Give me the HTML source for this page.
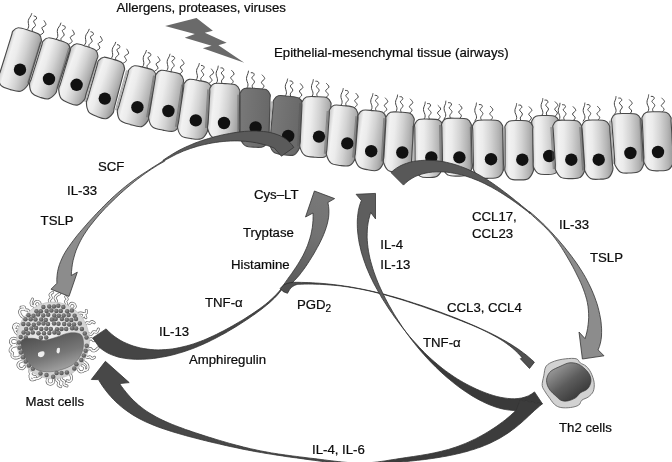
<!DOCTYPE html>
<html><head><meta charset="utf-8"><title>Figure</title>
<style>html,body{margin:0;padding:0;background:#fff}svg{display:block;filter:grayscale(1)}</style></head>
<body>
<svg width="672" height="462" viewBox="0 0 672 462">
<defs>
<linearGradient id="gl" x1="0" y1="0" x2="1" y2="0"><stop offset="0" stop-color="#f6f6f6"/><stop offset="0.45" stop-color="#e9e9e9"/><stop offset="1" stop-color="#b9b9b9"/></linearGradient>
<linearGradient id="gd" x1="0" y1="0" x2="1" y2="0"><stop offset="0" stop-color="#7a7a7a"/><stop offset="1" stop-color="#626262"/></linearGradient>
</defs>
<rect width="672" height="462" fill="#fff"/>
<defs><linearGradient id="c0" gradientUnits="userSpaceOnUse" x1="5.5" y1="54.9" x2="34.3" y2="63.5"><stop offset="0" stop-color="#cfcfcf"/><stop offset="0.13" stop-color="#f2f2f2"/><stop offset="0.32" stop-color="#ececec"/><stop offset="0.6" stop-color="#d2d2d2"/><stop offset="0.85" stop-color="#b4b4b4"/><stop offset="1" stop-color="#9c9c9c"/></linearGradient><linearGradient id="c1" gradientUnits="userSpaceOnUse" x1="36.1" y1="63.6" x2="62.6" y2="72.2"><stop offset="0" stop-color="#cfcfcf"/><stop offset="0.13" stop-color="#f2f2f2"/><stop offset="0.32" stop-color="#ececec"/><stop offset="0.6" stop-color="#d2d2d2"/><stop offset="0.85" stop-color="#b4b4b4"/><stop offset="1" stop-color="#9c9c9c"/></linearGradient><linearGradient id="c2" gradientUnits="userSpaceOnUse" x1="64.8" y1="69.1" x2="90.9" y2="78.6"><stop offset="0" stop-color="#cfcfcf"/><stop offset="0.13" stop-color="#f2f2f2"/><stop offset="0.32" stop-color="#ececec"/><stop offset="0.6" stop-color="#d2d2d2"/><stop offset="0.85" stop-color="#b4b4b4"/><stop offset="1" stop-color="#9c9c9c"/></linearGradient><linearGradient id="c3" gradientUnits="userSpaceOnUse" x1="92.2" y1="82.6" x2="118.5" y2="91.7"><stop offset="0" stop-color="#cfcfcf"/><stop offset="0.13" stop-color="#f2f2f2"/><stop offset="0.32" stop-color="#ececec"/><stop offset="0.6" stop-color="#d2d2d2"/><stop offset="0.85" stop-color="#b4b4b4"/><stop offset="1" stop-color="#9c9c9c"/></linearGradient><linearGradient id="c4" gradientUnits="userSpaceOnUse" x1="123" y1="91.3" x2="151.9" y2="99.2"><stop offset="0" stop-color="#cfcfcf"/><stop offset="0.13" stop-color="#f2f2f2"/><stop offset="0.32" stop-color="#ececec"/><stop offset="0.6" stop-color="#d2d2d2"/><stop offset="0.85" stop-color="#b4b4b4"/><stop offset="1" stop-color="#9c9c9c"/></linearGradient><linearGradient id="c5" gradientUnits="userSpaceOnUse" x1="152.2" y1="97.2" x2="181.5" y2="102.9"><stop offset="0" stop-color="#cfcfcf"/><stop offset="0.13" stop-color="#f2f2f2"/><stop offset="0.32" stop-color="#ececec"/><stop offset="0.6" stop-color="#d2d2d2"/><stop offset="0.85" stop-color="#b4b4b4"/><stop offset="1" stop-color="#9c9c9c"/></linearGradient><linearGradient id="c6" gradientUnits="userSpaceOnUse" x1="180.8" y1="106.4" x2="209.4" y2="111.1"><stop offset="0" stop-color="#cfcfcf"/><stop offset="0.13" stop-color="#f2f2f2"/><stop offset="0.32" stop-color="#ececec"/><stop offset="0.6" stop-color="#d2d2d2"/><stop offset="0.85" stop-color="#b4b4b4"/><stop offset="1" stop-color="#9c9c9c"/></linearGradient><linearGradient id="c7" gradientUnits="userSpaceOnUse" x1="208.9" y1="109.3" x2="239.4" y2="112.5"><stop offset="0" stop-color="#cfcfcf"/><stop offset="0.13" stop-color="#f2f2f2"/><stop offset="0.32" stop-color="#ececec"/><stop offset="0.6" stop-color="#d2d2d2"/><stop offset="0.85" stop-color="#b4b4b4"/><stop offset="1" stop-color="#9c9c9c"/></linearGradient><linearGradient id="c8" gradientUnits="userSpaceOnUse" x1="240.2" y1="116.3" x2="269.5" y2="117.6"><stop offset="0" stop-color="#787878"/><stop offset="1" stop-color="#686868"/></linearGradient><linearGradient id="c9" gradientUnits="userSpaceOnUse" x1="271.6" y1="123" x2="300.9" y2="126.4"><stop offset="0" stop-color="#787878"/><stop offset="1" stop-color="#686868"/></linearGradient><linearGradient id="c10" gradientUnits="userSpaceOnUse" x1="301" y1="125.3" x2="330.4" y2="127.1"><stop offset="0" stop-color="#cfcfcf"/><stop offset="0.13" stop-color="#f2f2f2"/><stop offset="0.32" stop-color="#ececec"/><stop offset="0.6" stop-color="#d2d2d2"/><stop offset="0.85" stop-color="#b4b4b4"/><stop offset="1" stop-color="#9c9c9c"/></linearGradient><linearGradient id="c11" gradientUnits="userSpaceOnUse" x1="328" y1="133.1" x2="356.4" y2="136.5"><stop offset="0" stop-color="#cfcfcf"/><stop offset="0.13" stop-color="#f2f2f2"/><stop offset="0.32" stop-color="#ececec"/><stop offset="0.6" stop-color="#d2d2d2"/><stop offset="0.85" stop-color="#b4b4b4"/><stop offset="1" stop-color="#9c9c9c"/></linearGradient><linearGradient id="c12" gradientUnits="userSpaceOnUse" x1="356.6" y1="137.5" x2="384.4" y2="141.4"><stop offset="0" stop-color="#cfcfcf"/><stop offset="0.13" stop-color="#f2f2f2"/><stop offset="0.32" stop-color="#ececec"/><stop offset="0.6" stop-color="#d2d2d2"/><stop offset="0.85" stop-color="#b4b4b4"/><stop offset="1" stop-color="#9c9c9c"/></linearGradient><linearGradient id="c13" gradientUnits="userSpaceOnUse" x1="384.8" y1="140.4" x2="412.6" y2="142.6"><stop offset="0" stop-color="#cfcfcf"/><stop offset="0.13" stop-color="#f2f2f2"/><stop offset="0.32" stop-color="#ececec"/><stop offset="0.6" stop-color="#d2d2d2"/><stop offset="0.85" stop-color="#b4b4b4"/><stop offset="1" stop-color="#9c9c9c"/></linearGradient><linearGradient id="c14" gradientUnits="userSpaceOnUse" x1="415" y1="147.4" x2="442.5" y2="147.6"><stop offset="0" stop-color="#cfcfcf"/><stop offset="0.13" stop-color="#f2f2f2"/><stop offset="0.32" stop-color="#ececec"/><stop offset="0.6" stop-color="#d2d2d2"/><stop offset="0.85" stop-color="#b4b4b4"/><stop offset="1" stop-color="#9c9c9c"/></linearGradient><linearGradient id="c15" gradientUnits="userSpaceOnUse" x1="442.2" y1="146.2" x2="471.6" y2="146.5"><stop offset="0" stop-color="#cfcfcf"/><stop offset="0.13" stop-color="#f2f2f2"/><stop offset="0.32" stop-color="#ececec"/><stop offset="0.6" stop-color="#d2d2d2"/><stop offset="0.85" stop-color="#b4b4b4"/><stop offset="1" stop-color="#9c9c9c"/></linearGradient><linearGradient id="c16" gradientUnits="userSpaceOnUse" x1="473.1" y1="148.5" x2="503.1" y2="148.2"><stop offset="0" stop-color="#cfcfcf"/><stop offset="0.13" stop-color="#f2f2f2"/><stop offset="0.32" stop-color="#ececec"/><stop offset="0.6" stop-color="#d2d2d2"/><stop offset="0.85" stop-color="#b4b4b4"/><stop offset="1" stop-color="#9c9c9c"/></linearGradient><linearGradient id="c18" gradientUnits="userSpaceOnUse" x1="532.5" y1="144.4" x2="559.7" y2="144"><stop offset="0" stop-color="#cfcfcf"/><stop offset="0.13" stop-color="#f2f2f2"/><stop offset="0.32" stop-color="#ececec"/><stop offset="0.6" stop-color="#d2d2d2"/><stop offset="0.85" stop-color="#b4b4b4"/><stop offset="1" stop-color="#9c9c9c"/></linearGradient><linearGradient id="c17" gradientUnits="userSpaceOnUse" x1="505.1" y1="149.4" x2="532.9" y2="149.4"><stop offset="0" stop-color="#cfcfcf"/><stop offset="0.13" stop-color="#f2f2f2"/><stop offset="0.32" stop-color="#ececec"/><stop offset="0.6" stop-color="#d2d2d2"/><stop offset="0.85" stop-color="#b4b4b4"/><stop offset="1" stop-color="#9c9c9c"/></linearGradient><linearGradient id="c19" gradientUnits="userSpaceOnUse" x1="554.4" y1="148.5" x2="583.3" y2="148.8"><stop offset="0" stop-color="#cfcfcf"/><stop offset="0.13" stop-color="#f2f2f2"/><stop offset="0.32" stop-color="#ececec"/><stop offset="0.6" stop-color="#d2d2d2"/><stop offset="0.85" stop-color="#b4b4b4"/><stop offset="1" stop-color="#9c9c9c"/></linearGradient><linearGradient id="c20" gradientUnits="userSpaceOnUse" x1="583.5" y1="149.2" x2="611.2" y2="148.5"><stop offset="0" stop-color="#cfcfcf"/><stop offset="0.13" stop-color="#f2f2f2"/><stop offset="0.32" stop-color="#ececec"/><stop offset="0.6" stop-color="#d2d2d2"/><stop offset="0.85" stop-color="#b4b4b4"/><stop offset="1" stop-color="#9c9c9c"/></linearGradient><linearGradient id="c21" gradientUnits="userSpaceOnUse" x1="613.4" y1="142.8" x2="642.3" y2="142.2"><stop offset="0" stop-color="#cfcfcf"/><stop offset="0.13" stop-color="#f2f2f2"/><stop offset="0.32" stop-color="#ececec"/><stop offset="0.6" stop-color="#d2d2d2"/><stop offset="0.85" stop-color="#b4b4b4"/><stop offset="1" stop-color="#9c9c9c"/></linearGradient><linearGradient id="c22" gradientUnits="userSpaceOnUse" x1="643.2" y1="140.7" x2="672.2" y2="140.4"><stop offset="0" stop-color="#cfcfcf"/><stop offset="0.13" stop-color="#f2f2f2"/><stop offset="0.32" stop-color="#ececec"/><stop offset="0.6" stop-color="#d2d2d2"/><stop offset="0.85" stop-color="#b4b4b4"/><stop offset="1" stop-color="#9c9c9c"/></linearGradient></defs>
<path d="M25.6,30.7C26,30.3 27.6,29.2 28.1,28.3C28.6,27.4 28.7,26.4 28.7,25.4C28.7,24.3 28.2,23.1 28.2,22C28.2,20.9 28.4,19.9 28.9,18.9C29.3,17.9 30.3,16.8 30.8,15.9C31.3,14.9 31.7,13.5 31.9,13.1" fill="none" stroke="#454545" stroke-width="1"/>
<path d="M32.8,32.9C32.7,32.3 31.9,30.1 32.3,28.9C32.8,27.7 35.3,26.8 35.5,25.5C35.7,24.2 33.4,22.2 33.6,21.1C33.7,20.1 36,19.7 36.4,19C36.8,18.3 36.5,17.2 36.1,16.7C35.6,16.2 34.1,16.1 33.7,15.9" fill="none" stroke="#454545" stroke-width="1"/>
<path d="M39.9,35.2C40.5,34.7 43.4,33.4 43.7,32.2C44,30.9 41.6,29 41.9,27.8C42.3,26.6 45.6,26.1 45.9,24.8C46.3,23.6 44.3,21.2 43.9,20.4" fill="none" stroke="#454545" stroke-width="1"/>
<path d="M5.5,54.9C7.3,48.9 10.3,39.5 11.5,35.5C12.8,31.6 11.8,32.5 12.9,31.2C14,29.9 15.5,27.9 18.2,27.8C20.8,27.6 25.3,29.3 28.8,30.4C32.3,31.4 36.9,32.6 39,34.2C41.1,35.8 41.3,38.3 41.4,40C41.6,41.7 41.3,40.4 40.1,44.3C38.9,48.2 36.1,57.6 34.3,63.5C32.5,69.4 30.4,76.1 29.3,79.8C28.2,83.4 29,83.6 27.5,85.5C26.1,87.4 23.3,90.5 20.5,91.2C17.6,91.9 13.7,90.5 10.5,89.6C7.3,88.7 3.2,87.8 1.2,85.7C-0.8,83.6 -1.3,79.6 -1.5,77.2C-1.7,74.8 -0.9,75.2 0.3,71.5C1.5,67.7 3.6,60.9 5.5,54.9Z" fill="url(#c0)" stroke="#484848" stroke-width="1.1"/>
<circle cx="20" cy="69.7" r="6.2" fill="#111"/>
<path d="M54.7,40.4C55.1,40 56.7,38.8 57.2,37.9C57.7,37 57.8,36.1 57.8,35C57.8,34 57.3,32.7 57.3,31.6C57.3,30.5 57.5,29.5 57.9,28.5C58.4,27.5 59.4,26.4 59.9,25.5C60.4,24.5 60.8,23.2 61,22.7" fill="none" stroke="#454545" stroke-width="1"/>
<path d="M61.5,42.5C61.4,41.8 60.6,39.7 61.1,38.4C61.5,37.2 64,36.3 64.2,35C64.4,33.7 62.2,31.7 62.3,30.6C62.5,29.6 64.7,29.2 65.1,28.5C65.5,27.8 65.3,26.7 64.8,26.2C64.3,25.7 62.8,25.6 62.4,25.4" fill="none" stroke="#454545" stroke-width="1"/>
<path d="M68.3,44.5C68.9,44 71.8,42.8 72.1,41.5C72.4,40.3 69.9,38.4 70.3,37.2C70.7,35.9 74,35.4 74.3,34.2C74.6,33 72.6,30.5 72.3,29.8" fill="none" stroke="#454545" stroke-width="1"/>
<path d="M41.5,42.3L28.7,83.2M40.4,41.9L27.6,82.8" fill="none" stroke="#555" stroke-width="0.5"/>
<path d="M36.1,63.6C37.8,58 40.6,49.2 41.7,45.5C42.9,41.8 42,42.5 43.1,41.2C44.2,39.9 45.9,37.9 48.4,37.8C50.9,37.6 55,39.1 58.3,40.1C61.5,41.1 65.8,42.1 67.8,43.7C69.8,45.3 70,47.8 70.1,49.5C70.3,51.2 70,50 68.7,53.8C67.5,57.6 64.5,66.6 62.6,72.2C60.7,77.9 58.5,84.3 57.4,87.9C56.2,91.4 57,91.7 55.5,93.5C53.9,95.4 50.9,98.3 48.3,98.9C45.7,99.5 42.5,98.1 39.8,97.2C37.1,96.2 33.8,95.4 32.1,93.2C30.3,91.1 29.6,86.9 29.5,84.5C29.4,82.1 30.2,82.2 31.3,78.8C32.4,75.3 34.3,69.1 36.1,63.6Z" fill="url(#c1)" stroke="#484848" stroke-width="1.1"/>
<circle cx="49" cy="79" r="6.2" fill="#111"/>
<path d="M82.7,46.5C83.2,46.1 84.7,45 85.2,44.1C85.8,43.2 85.8,42.3 85.9,41.2C85.9,40.2 85.4,38.9 85.4,37.8C85.5,36.7 85.7,35.7 86.1,34.7C86.6,33.7 87.6,32.7 88.1,31.7C88.6,30.8 89.1,29.4 89.3,28.9" fill="none" stroke="#454545" stroke-width="1"/>
<path d="M89.4,48.7C89.3,48 88.6,45.9 89,44.7C89.5,43.4 92,42.6 92.2,41.3C92.4,40 90.2,38 90.4,36.9C90.5,35.8 92.8,35.5 93.2,34.8C93.7,34.1 93.4,33.1 92.9,32.5C92.5,32 90.9,31.8 90.5,31.7" fill="none" stroke="#454545" stroke-width="1"/>
<path d="M96.1,50.9C96.7,50.4 99.5,49.2 99.9,48C100.2,46.7 97.8,44.8 98.2,43.6C98.6,42.4 101.9,41.9 102.2,40.7C102.6,39.4 100.6,37 100.3,36.2" fill="none" stroke="#454545" stroke-width="1"/>
<path d="M69.8,48.3L57.9,88.3M68.7,48L56.8,87.9" fill="none" stroke="#555" stroke-width="0.5"/>
<path d="M64.8,69.1C66.4,63.7 69,55.2 70,51.5C71.1,47.9 70.2,48.5 71.3,47.2C72.4,45.9 74.1,44 76.6,43.8C79.1,43.7 83.1,45.3 86.2,46.3C89.4,47.4 93.6,48.5 95.5,50.1C97.5,51.7 97.7,54.2 97.9,55.9C98.1,57.6 97.8,56.5 96.6,60.2C95.4,64 92.6,73 90.9,78.6C89.1,84.3 87.1,90.6 86,94.2C84.9,97.7 85.7,98.1 84.2,99.9C82.8,101.7 79.8,104.6 77.2,105.1C74.6,105.5 71.4,104 68.8,102.9C66.1,101.8 62.9,100.8 61.2,98.6C59.5,96.3 58.9,92 58.7,89.6C58.6,87.1 59.4,87.2 60.4,83.8C61.5,80.4 63.2,74.5 64.8,69.1Z" fill="url(#c2)" stroke="#484848" stroke-width="1.1"/>
<circle cx="76.6" cy="84.8" r="6.2" fill="#111"/>
<path d="M109.6,59.6C110,59.2 111.6,58.1 112.1,57.2C112.6,56.3 112.6,55.3 112.7,54.2C112.7,53.2 112.1,51.9 112.2,50.9C112.2,49.8 112.4,48.8 112.8,47.7C113.2,46.7 114.2,45.7 114.7,44.7C115.2,43.7 115.6,42.4 115.8,41.9" fill="none" stroke="#454545" stroke-width="1"/>
<path d="M116.1,61.6C116.1,60.9 115.2,58.8 115.7,57.6C116.1,56.3 118.6,55.5 118.8,54.2C119,52.9 116.7,50.9 116.9,49.8C117,48.7 119.3,48.4 119.7,47.6C120.1,46.9 119.8,45.9 119.4,45.4C118.9,44.9 117.4,44.7 117,44.6" fill="none" stroke="#454545" stroke-width="1"/>
<path d="M122.6,63.6C123.3,63.1 126.1,61.8 126.4,60.6C126.7,59.3 124.3,57.4 124.6,56.2C125,55 128.3,54.5 128.6,53.2C128.9,52 127,49.6 126.6,48.8" fill="none" stroke="#454545" stroke-width="1"/>
<path d="M96.9,61.8L85.5,101.9M95.9,61.5L84.4,101.6" fill="none" stroke="#555" stroke-width="0.5"/>
<path d="M92.2,82.6C93.8,77.2 96.2,68.6 97.2,65C98.3,61.3 97.4,61.9 98.5,60.6C99.6,59.3 101.3,57.4 103.7,57.2C106.1,56.9 110,58.4 113,59.3C116.1,60.2 120.1,61.2 122,62.7C123.9,64.3 124.4,66.9 124.6,68.6C124.9,70.3 124.5,69.1 123.5,72.9C122.5,76.8 120,86 118.5,91.7C117,97.5 115.3,104 114.3,107.6C113.4,111.2 114.2,111.6 112.8,113.4C111.4,115.3 108.6,118.2 106,118.7C103.4,119.2 99.9,117.6 97,116.5C94.2,115.4 90.7,114.3 88.9,112.1C87.2,109.9 86.5,105.6 86.4,103.1C86.2,100.7 87,100.8 88,97.4C89,94 90.7,88 92.2,82.6Z" fill="url(#c3)" stroke="#484848" stroke-width="1.1"/>
<circle cx="104.8" cy="98.6" r="6.2" fill="#111"/>
<path d="M141,68.1C141.4,67.6 142.9,66.4 143.4,65.5C143.8,64.6 143.8,63.6 143.8,62.6C143.8,61.5 143.2,60.3 143.2,59.2C143.2,58.1 143.3,57.1 143.7,56C144.1,55 145,53.9 145.5,52.9C145.9,51.9 146.3,50.6 146.5,50.1" fill="none" stroke="#454545" stroke-width="1"/>
<path d="M147.7,69.7C147.6,69 146.7,66.9 147.1,65.7C147.5,64.4 149.9,63.5 150,62.2C150.2,60.9 147.9,59 148,57.9C148.1,56.8 150.3,56.3 150.7,55.6C151.1,54.8 150.7,53.8 150.2,53.3C149.8,52.9 148.2,52.8 147.8,52.6" fill="none" stroke="#454545" stroke-width="1"/>
<path d="M154.4,71.3C155,70.8 157.8,69.4 158,68.2C158.3,66.9 155.8,65.1 156.1,63.9C156.4,62.6 159.6,62 159.9,60.7C160.2,59.5 158.1,57.2 157.7,56.4" fill="none" stroke="#454545" stroke-width="1"/>
<path d="M127.5,70.6L116.4,110.4M126.5,70.3L115.4,110.1" fill="none" stroke="#555" stroke-width="0.5"/>
<path d="M123,91.3C124.5,85.9 126.9,77.4 127.9,73.8C128.9,70.2 128,70.8 129.1,69.5C130.2,68.1 131.9,66.1 134.3,65.8C136.8,65.4 140.8,66.7 143.9,67.4C147.1,68.2 151.2,68.9 153.2,70.4C155.3,71.8 155.9,74.4 156.2,76.1C156.6,77.8 156.1,76.7 155.4,80.5C154.7,84.4 153,93.5 151.9,99.2C150.9,104.9 149.7,111.3 149,114.9C148.3,118.5 149.1,118.8 147.9,120.8C146.6,122.7 144.4,126 141.5,126.6C138.6,127.2 134,125.6 130.5,124.6C127,123.5 122.4,122.4 120.2,120.3C118,118.1 117.5,114 117.3,111.6C117.1,109.3 118,109.3 118.9,105.9C119.9,102.5 121.5,96.6 123,91.3Z" fill="url(#c4)" stroke="#484848" stroke-width="1.1"/>
<circle cx="137.4" cy="107.2" r="6.2" fill="#111"/>
<path d="M165.4,71.9C165.7,71.5 167.2,70.2 167.6,69.2C168,68.3 168,67.3 167.9,66.3C167.9,65.3 167.2,64 167.2,63C167.1,61.9 167.2,60.9 167.5,59.8C167.9,58.7 168.8,57.6 169.2,56.6C169.6,55.6 169.9,54.2 170.1,53.8" fill="none" stroke="#454545" stroke-width="1"/>
<path d="M172.1,73.2C172,72.5 171,70.5 171.4,69.2C171.7,68 174.1,66.9 174.2,65.6C174.3,64.3 171.9,62.5 171.9,61.4C172,60.3 174.2,59.8 174.5,59C174.9,58.2 174.5,57.2 174,56.8C173.5,56.3 171.9,56.3 171.5,56.2" fill="none" stroke="#454545" stroke-width="1"/>
<path d="M178.9,74.5C179.5,74 182.2,72.4 182.4,71.2C182.7,69.9 180,68.2 180.3,67C180.5,65.8 183.8,65 184,63.7C184.2,62.5 182,60.2 181.6,59.5" fill="none" stroke="#454545" stroke-width="1"/>
<path d="M154.5,75.7L147.7,117.3M153.5,75.5L146.6,117.2" fill="none" stroke="#555" stroke-width="0.5"/>
<path d="M152.2,97.2C153.1,91.6 154.6,82.6 155.2,78.8C155.9,75 155.1,75.8 156,74.4C156.9,73 158.3,70.8 160.7,70.4C163.2,69.9 167.2,71 170.4,71.6C173.6,72.2 177.7,72.7 179.9,74C182,75.4 182.9,78 183.4,79.6C184,81.3 183.4,80.2 183.1,84.1C182.7,88 182,97.1 181.5,102.9C181.1,108.7 180.5,115.1 180.3,118.7C180,122.3 180.8,122.6 179.8,124.7C178.7,126.7 176.8,130.2 174,131.1C171.2,132 166.6,130.8 163,130.1C159.4,129.4 154.8,128.8 152.4,126.8C150,124.9 149.1,120.9 148.7,118.5C148.2,116.2 149.1,116.2 149.7,112.6C150.2,109 151.3,102.8 152.2,97.2Z" fill="url(#c5)" stroke="#484848" stroke-width="1.1"/>
<circle cx="168.4" cy="111" r="6.2" fill="#111"/>
<path d="M194.8,81.1C195.2,80.7 196.6,79.4 197,78.5C197.5,77.5 197.4,76.5 197.4,75.5C197.3,74.5 196.6,73.2 196.6,72.2C196.5,71.1 196.6,70.1 196.9,69C197.3,68 198.2,66.8 198.6,65.8C199,64.8 199.3,63.4 199.5,63" fill="none" stroke="#454545" stroke-width="1"/>
<path d="M201.7,82.4C201.5,81.8 200.5,79.7 200.9,78.4C201.2,77.2 203.6,76.1 203.7,74.8C203.8,73.5 201.4,71.7 201.4,70.6C201.5,69.5 203.7,69 204,68.2C204.4,67.4 204,66.4 203.5,66C203,65.5 201.4,65.5 201,65.4" fill="none" stroke="#454545" stroke-width="1"/>
<path d="M208.5,83.7C209.1,83.2 211.8,81.6 212,80.4C212.3,79.1 209.6,77.5 209.9,76.2C210.1,75 213.4,74.2 213.6,72.9C213.8,71.7 211.6,69.4 211.2,68.7" fill="none" stroke="#454545" stroke-width="1"/>
<path d="M182.8,84.7L176.6,126.8M181.7,84.5L175.5,126.7" fill="none" stroke="#555" stroke-width="0.5"/>
<path d="M180.8,106.4C181.7,100.7 183,91.7 183.6,87.8C184.2,84 183.3,84.8 184.2,83.4C185.1,82 186.5,79.8 188.9,79.4C191.4,78.9 195.6,79.9 198.8,80.6C202.1,81.2 206.3,81.7 208.5,83.1C210.6,84.4 211.4,86.9 211.9,88.6C212.4,90.3 211.8,89.3 211.4,93.1C211,96.8 210,105.6 209.4,111.1C208.8,116.7 208.1,122.7 207.7,126.2C207.3,129.7 208.1,130.1 207,132.2C206,134.3 203.8,137.8 201.1,138.8C198.5,139.9 194.4,139.1 191.2,138.6C187.9,138.2 183.8,137.8 181.6,136.1C179.3,134.3 178.1,130.3 177.6,128C177.1,125.7 177.9,125.7 178.5,122.1C179,118.5 180,112.1 180.8,106.4Z" fill="url(#c6)" stroke="#484848" stroke-width="1.1"/>
<circle cx="195.8" cy="120.4" r="6.2" fill="#111"/>
<path d="M215.3,84.2C215.6,83.8 216.9,82.3 217.3,81.4C217.6,80.4 217.5,79.4 217.3,78.4C217.2,77.4 216.4,76.2 216.3,75.2C216.1,74.1 216.1,73.1 216.3,72C216.6,70.9 217.4,69.7 217.7,68.7C218,67.6 218.2,66.2 218.3,65.7" fill="none" stroke="#454545" stroke-width="1"/>
<path d="M222.7,84.8C222.5,84.1 221.3,82.2 221.5,80.9C221.7,79.6 224,78.3 224,77C223.9,75.7 221.4,74.1 221.3,73C221.3,71.9 223.4,71.2 223.7,70.4C224,69.6 223.5,68.6 223,68.2C222.4,67.8 220.9,67.9 220.5,67.9" fill="none" stroke="#454545" stroke-width="1"/>
<path d="M230.1,85.3C230.6,84.7 233.1,82.9 233.2,81.6C233.3,80.4 230.6,78.9 230.7,77.7C230.8,76.4 234,75.3 234.1,74C234.2,72.8 231.8,70.7 231.3,70.1" fill="none" stroke="#454545" stroke-width="1"/>
<path d="M208.8,89.5L206.6,127.9M207.7,89.4L205.5,127.9" fill="none" stroke="#555" stroke-width="0.5"/>
<path d="M208.9,109.3C209.1,104.2 209.6,96.1 209.8,92.6C210,89 209.3,89.6 210,88.1C210.8,86.6 211.9,84.3 214.4,83.5C216.9,82.8 221.6,83.4 225.1,83.6C228.7,83.9 233.3,83.9 235.8,85C238.2,86.1 239.1,88.6 239.7,90.2C240.4,91.8 239.7,90.9 239.7,94.7C239.6,98.4 239.5,107.1 239.4,112.5C239.4,118 239.3,123.9 239.3,127.4C239.2,130.8 240.1,131.2 239.2,133.4C238.3,135.5 236.6,139 233.9,140.1C231.1,141.1 226.5,140.2 222.9,139.7C219.3,139.2 214.8,138.9 212.3,137.1C209.7,135.3 208.4,131.3 207.7,129C207,126.6 207.9,126.3 208.1,123C208.3,119.7 208.6,114.4 208.9,109.3Z" fill="url(#c7)" stroke="#484848" stroke-width="1.1"/>
<circle cx="224" cy="123" r="6.2" fill="#111"/>
<path d="M245.9,89.2C246.2,88.8 247.5,87.3 247.8,86.3C248.1,85.4 248,84.4 247.8,83.4C247.6,82.3 246.8,81.2 246.7,80.1C246.5,79.1 246.4,78.1 246.7,77C246.9,75.9 247.6,74.7 247.9,73.6C248.3,72.6 248.4,71.2 248.5,70.7" fill="none" stroke="#454545" stroke-width="1"/>
<path d="M253.4,89.6C253.2,88.9 252,87 252.2,85.7C252.3,84.4 254.6,83.1 254.5,81.8C254.5,80.5 251.9,79 251.8,77.9C251.7,76.8 253.9,76 254.1,75.2C254.4,74.4 253.9,73.4 253.4,73C252.8,72.6 251.2,72.8 250.8,72.7" fill="none" stroke="#454545" stroke-width="1"/>
<path d="M260.9,89.9C261.4,89.3 263.9,87.5 264,86.2C264.1,84.9 261.3,83.6 261.4,82.3C261.5,81 264.6,79.9 264.7,78.6C264.8,77.3 262.3,75.3 261.9,74.7" fill="none" stroke="#454545" stroke-width="1"/>
<path d="M239,94.7L239,137M237.9,94.7L237.9,137" fill="none" stroke="#555" stroke-width="0.5"/>
<path d="M240.2,116.3C240.2,110.6 240.2,101.5 240.2,97.7C240.2,93.8 239.5,94.7 240.2,93.2C240.9,91.7 241.8,89.3 244.3,88.5C246.8,87.7 251.6,88.2 255.2,88.4C258.9,88.5 263.7,88.5 266.2,89.5C268.6,90.5 269.5,92.9 270.1,94.5C270.7,96.1 270.1,95.2 270,99C269.9,102.9 269.6,111.9 269.5,117.6C269.4,123.3 269.2,129.6 269.1,133.2C269,136.8 269.9,137 269,139.2C268,141.4 266.1,145.1 263.6,146.4C261.2,147.8 257.5,147.3 254.4,147.2C251.3,147.1 247.6,147.2 245.2,145.6C242.9,144.1 241,140.3 240.2,138C239.4,135.7 240.2,135.6 240.2,132C240.2,128.4 240.2,122.1 240.2,116.3Z" fill="url(#c8)" stroke="#484848" stroke-width="1.1"/>
<circle cx="255.6" cy="127.4" r="6.2" fill="#111"/>
<path d="M284.1,97.1C284.5,96.6 285.8,95.2 286.2,94.3C286.6,93.3 286.5,92.3 286.3,91.3C286.2,90.3 285.5,89.1 285.4,88C285.2,86.9 285.3,85.9 285.5,84.8C285.8,83.8 286.6,82.6 287,81.6C287.3,80.5 287.5,79.1 287.7,78.6" fill="none" stroke="#454545" stroke-width="1"/>
<path d="M291.3,97.8C291.1,97.2 290,95.2 290.3,93.9C290.5,92.6 292.8,91.4 292.8,90.1C292.8,88.8 290.3,87.1 290.3,86C290.3,84.9 292.5,84.3 292.8,83.5C293.1,82.7 292.6,81.7 292.1,81.3C291.6,80.9 290,81 289.6,80.9" fill="none" stroke="#454545" stroke-width="1"/>
<path d="M298.5,98.6C299,98 301.6,96.3 301.8,95.1C301.9,93.8 299.2,92.3 299.4,91C299.5,89.8 302.7,88.8 302.9,87.5C303,86.2 300.7,84.1 300.2,83.4" fill="none" stroke="#454545" stroke-width="1"/>
<path d="M272.4,101.5L268.5,143.2M271.3,101.4L267.4,143.1" fill="none" stroke="#555" stroke-width="0.5"/>
<path d="M271.6,123C272.1,117.4 272.9,108.4 273.3,104.6C273.6,100.8 272.9,101.6 273.7,100.1C274.5,98.7 275.7,96.4 278.2,95.8C280.6,95.1 285.1,95.9 288.6,96.2C292,96.6 296.5,96.8 298.8,98C301.1,99.2 301.9,101.6 302.5,103.3C303.1,104.9 302.5,103.9 302.2,107.8C301.9,111.6 301.3,120.7 300.9,126.4C300.6,132.2 300.1,138.5 299.9,142.1C299.7,145.7 300.5,146 299.5,148.1C298.5,150.2 296.5,153.8 293.9,154.9C291.2,156 287.1,155.2 283.8,154.8C280.5,154.3 276.3,154.1 274,152.3C271.6,150.6 270.3,146.6 269.6,144.3C269,142 269.9,141.9 270.2,138.3C270.5,134.8 271.1,128.6 271.6,123Z" fill="url(#c9)" stroke="#484848" stroke-width="1.1"/>
<circle cx="288.2" cy="136" r="6.2" fill="#111"/>
<path d="M310.9,97.8C311.2,97.3 312.5,95.9 312.8,94.9C313.1,93.9 313,92.9 312.8,91.9C312.6,90.9 311.8,89.8 311.6,88.7C311.4,87.6 311.4,86.6 311.6,85.5C311.8,84.4 312.6,83.2 312.8,82.2C313.1,81.1 313.3,79.7 313.4,79.2" fill="none" stroke="#454545" stroke-width="1"/>
<path d="M318.1,98.1C317.9,97.4 316.6,95.5 316.8,94.2C317,92.9 319.2,91.6 319.2,90.2C319.1,88.9 316.5,87.4 316.4,86.3C316.3,85.2 318.5,84.5 318.7,83.7C319,82.9 318.5,81.9 317.9,81.5C317.4,81.1 315.8,81.3 315.4,81.2" fill="none" stroke="#454545" stroke-width="1"/>
<path d="M325.3,98.3C325.8,97.7 328.3,95.9 328.3,94.6C328.4,93.3 325.6,92 325.7,90.7C325.8,89.4 328.9,88.2 329,87C329.1,85.7 326.6,83.7 326.1,83.1" fill="none" stroke="#454545" stroke-width="1"/>
<path d="M300.8,103.1L298.8,146.3M299.7,103.1L297.7,146.3" fill="none" stroke="#555" stroke-width="0.5"/>
<path d="M301,125.3C301.3,119.4 301.7,110.1 301.9,106.2C302.1,102.2 301.3,103.2 302.1,101.7C302.8,100.2 303.9,97.8 306.4,97C308.8,96.2 313.3,96.6 316.7,96.7C320.1,96.8 324.6,96.7 327,97.7C329.3,98.7 330.3,101.1 330.9,102.7C331.5,104.3 330.9,103.2 330.8,107.2C330.7,111.3 330.5,121 330.4,127.1C330.3,133.2 330.1,140.1 330,143.9C330,147.7 330.8,147.8 329.9,149.9C329,152.1 327.2,155.7 324.6,156.9C322,158.1 317.9,157.5 314.5,157.2C311.2,157 307.1,156.9 304.7,155.2C302.2,153.6 300.7,149.7 300,147.4C299.2,145.1 300.1,145.1 300.3,141.4C300.4,137.7 300.7,131.2 301,125.3Z" fill="url(#c10)" stroke="#484848" stroke-width="1.1"/>
<circle cx="319" cy="136.6" r="6.2" fill="#111"/>
<path d="M339.8,106.6C340.1,106.1 341.5,104.7 341.8,103.8C342.2,102.8 342.1,101.8 342,100.8C341.8,99.8 341.1,98.6 341,97.5C340.9,96.4 340.9,95.4 341.2,94.3C341.4,93.3 342.3,92.1 342.6,91.1C343,90 343.2,88.6 343.3,88.1" fill="none" stroke="#454545" stroke-width="1"/>
<path d="M346.8,107.3C346.6,106.7 345.5,104.7 345.8,103.4C346,102.1 348.3,100.9 348.4,99.6C348.4,98.3 345.8,96.6 345.8,95.5C345.8,94.4 348,93.8 348.3,93C348.6,92.2 348.2,91.2 347.6,90.8C347.1,90.4 345.5,90.4 345.1,90.4" fill="none" stroke="#454545" stroke-width="1"/>
<path d="M353.9,108.1C354.4,107.5 357,105.8 357.2,104.6C357.3,103.3 354.6,101.8 354.7,100.5C354.9,99.3 358.1,98.3 358.3,97C358.4,95.8 356.1,93.6 355.6,93" fill="none" stroke="#454545" stroke-width="1"/>
<path d="M328.3,111.1L325.4,153.9M327.2,111L324.3,153.8" fill="none" stroke="#555" stroke-width="0.5"/>
<path d="M328,133.1C328.4,127.3 329,118 329.3,114.1C329.6,110.2 328.8,111.1 329.6,109.7C330.4,108.2 331.5,105.9 334,105.3C336.4,104.6 340.8,105.4 344.1,105.7C347.5,106.1 351.8,106.3 354.1,107.5C356.4,108.7 357.3,111.2 357.8,112.8C358.4,114.4 357.8,113.3 357.6,117.3C357.3,121.2 356.8,130.6 356.4,136.5C356.1,142.5 355.7,149.1 355.5,152.8C355.3,156.5 356.1,156.7 355.1,158.8C354.2,160.9 352.1,164.4 349.6,165.5C347,166.6 343.2,165.9 340.1,165.5C337,165 333.2,164.8 331,163.1C328.7,161.3 327.2,157.3 326.5,155C325.8,152.6 326.7,152.6 326.9,149C327.2,145.3 327.6,138.9 328,133.1Z" fill="url(#c11)" stroke="#484848" stroke-width="1.1"/>
<circle cx="347.3" cy="143.4" r="6.2" fill="#111"/>
<path d="M369.7,111.6C370.1,111.1 371.4,109.8 371.8,108.8C372.1,107.8 372,106.9 371.9,105.8C371.7,104.8 371,103.6 370.8,102.6C370.7,101.5 370.7,100.5 371,99.4C371.2,98.3 372.1,97.1 372.4,96.1C372.7,95 372.9,93.6 373,93.2" fill="none" stroke="#454545" stroke-width="1"/>
<path d="M376.6,112.3C376.5,111.6 375.3,109.6 375.6,108.4C375.8,107.1 378.1,105.8 378.1,104.5C378.1,103.2 375.5,101.6 375.5,100.5C375.5,99.4 377.6,98.7 377.9,97.9C378.2,97.1 377.8,96.2 377.2,95.7C376.7,95.3 375.1,95.4 374.7,95.3" fill="none" stroke="#454545" stroke-width="1"/>
<path d="M383.5,112.9C384.1,112.3 386.7,110.6 386.8,109.3C386.9,108.1 384.2,106.6 384.3,105.3C384.5,104.1 387.6,103 387.8,101.8C387.9,100.5 385.6,98.4 385.1,97.7" fill="none" stroke="#454545" stroke-width="1"/>
<path d="M357,116.2L353.8,157.6M355.9,116.1L352.7,157.5" fill="none" stroke="#555" stroke-width="0.5"/>
<path d="M356.6,137.5C357,131.9 357.7,123 358,119.2C358.3,115.5 357.6,116.2 358.4,114.8C359.1,113.3 360.4,111 362.8,110.3C365.1,109.6 369.3,110.3 372.6,110.6C375.8,110.9 380.1,111 382.3,112.1C384.5,113.3 385.4,115.7 386,117.4C386.6,119 386,117.9 385.7,121.9C385.4,125.9 384.8,135.4 384.4,141.4C384,147.4 383.5,154.1 383.3,157.9C383,161.7 383.9,161.8 382.9,163.9C381.9,166 379.7,169.4 377.2,170.3C374.7,171.3 371,170.4 368,169.8C365,169.3 361.4,168.9 359.3,167C357.1,165.2 355.6,161.1 355,158.7C354.3,156.3 355.2,156.2 355.4,152.7C355.7,149.2 356.2,143 356.6,137.5Z" fill="url(#c12)" stroke="#484848" stroke-width="1.1"/>
<circle cx="371.2" cy="151.2" r="6.2" fill="#111"/>
<path d="M394.8,113.1C395.1,112.6 396.4,111.2 396.7,110.2C397.1,109.3 397,108.3 396.8,107.3C396.6,106.2 395.9,105.1 395.7,104C395.5,103 395.5,101.9 395.7,100.8C396,99.8 396.8,98.6 397.1,97.5C397.4,96.5 397.6,95.1 397.6,94.6" fill="none" stroke="#454545" stroke-width="1"/>
<path d="M401.8,113.6C401.6,112.9 400.4,111 400.6,109.7C400.8,108.4 403.1,107.1 403,105.8C403,104.5 400.4,102.9 400.4,101.8C400.3,100.7 402.5,100 402.7,99.2C403,98.4 402.5,97.4 402,97C401.5,96.6 399.9,96.7 399.5,96.7" fill="none" stroke="#454545" stroke-width="1"/>
<path d="M408.8,114C409.3,113.4 411.9,111.6 412,110.3C412.1,109.1 409.3,107.7 409.4,106.4C409.5,105.1 412.7,104 412.8,102.7C412.9,101.5 410.5,99.4 410,98.8" fill="none" stroke="#454545" stroke-width="1"/>
<path d="M384.9,118.2L382.4,161.4M383.8,118.1L381.3,161.4" fill="none" stroke="#555" stroke-width="0.5"/>
<path d="M384.8,140.4C385.1,134.5 385.7,125.2 385.9,121.3C386.1,117.3 385.4,118.3 386.1,116.8C386.9,115.3 388.1,113 390.5,112.2C392.9,111.4 397.1,112 400.5,112.2C403.8,112.4 408.1,112.4 410.4,113.4C412.7,114.5 413.5,116.9 414.1,118.5C414.7,120.1 414.1,119 413.8,123C413.6,127 413,136.5 412.6,142.6C412.2,148.6 411.8,155.3 411.6,159.1C411.3,162.8 412.2,162.9 411.2,165.1C410.2,167.2 408,170.8 405.6,172C403.2,173.2 399.7,172.6 396.8,172.4C393.9,172.1 390.3,172 388.1,170.4C385.9,168.7 384.3,164.8 383.5,162.5C382.8,160.2 383.7,160.2 383.9,156.5C384.1,152.8 384.5,146.3 384.8,140.4Z" fill="url(#c13)" stroke="#484848" stroke-width="1.1"/>
<circle cx="402.3" cy="152.5" r="6.2" fill="#111"/>
<path d="M423.1,120.3C423.4,119.8 424.7,118.3 425,117.3C425.3,116.3 425.1,115.4 424.9,114.3C424.7,113.3 423.9,112.2 423.7,111.1C423.5,110.1 423.4,109.1 423.6,108C423.8,106.9 424.6,105.6 424.8,104.6C425.1,103.5 425.2,102.1 425.3,101.6" fill="none" stroke="#454545" stroke-width="1"/>
<path d="M430.2,120.4C429.9,119.7 428.7,117.8 428.8,116.5C429,115.2 431.2,113.9 431.1,112.6C431,111.2 428.4,109.8 428.3,108.7C428.2,107.6 430.3,106.8 430.6,106C430.8,105.2 430.3,104.2 429.8,103.8C429.2,103.4 427.6,103.6 427.2,103.6" fill="none" stroke="#454545" stroke-width="1"/>
<path d="M437.2,120.5C437.7,119.9 440.1,118 440.2,116.7C440.3,115.5 437.4,114.2 437.5,112.9C437.6,111.6 440.7,110.4 440.7,109.1C440.8,107.8 438.3,105.9 437.8,105.3" fill="none" stroke="#454545" stroke-width="1"/>
<path d="M413.6,125.8L413.9,168M412.5,125.8L412.8,168" fill="none" stroke="#555" stroke-width="0.5"/>
<path d="M415,147.4C414.9,141.7 414.8,132.6 414.8,128.8C414.7,124.9 414.1,125.8 414.7,124.3C415.4,122.7 416.4,120.4 418.8,119.5C421.1,118.6 425.4,119 428.8,119.1C432.1,119.1 436.4,118.9 438.8,119.9C441.1,120.8 442.1,123.2 442.8,124.8C443.4,126.4 442.7,125.5 442.7,129.3C442.7,133.1 442.6,142 442.5,147.6C442.4,153.1 442.4,159.3 442.3,162.8C442.3,166.4 443.1,166.6 442.3,168.8C441.4,171.1 439.4,174.8 437.1,176.3C434.9,177.7 431.5,177.5 428.7,177.5C425.9,177.5 422.6,177.8 420.3,176.4C418,175 416,171.2 415.1,169C414.3,166.8 415.1,166.6 415.1,163C415.1,159.4 415,153.1 415,147.4Z" fill="url(#c14)" stroke="#484848" stroke-width="1.1"/>
<circle cx="431.3" cy="157.4" r="6.2" fill="#111"/>
<path d="M443.8,119.3C444.1,118.8 445.3,117.4 445.6,116.4C445.9,115.4 445.7,114.4 445.5,113.4C445.3,112.4 444.5,111.3 444.3,110.2C444.1,109.2 444.1,108.1 444.2,107C444.4,105.9 445.2,104.7 445.5,103.7C445.7,102.6 445.8,101.2 445.9,100.7" fill="none" stroke="#454545" stroke-width="1"/>
<path d="M451.1,119.5C450.9,118.8 449.6,116.9 449.8,115.6C449.9,114.3 452.1,112.9 452,111.6C451.9,110.3 449.3,108.9 449.2,107.8C449.1,106.7 451.3,105.9 451.5,105C451.7,104.2 451.2,103.3 450.7,102.9C450.1,102.5 448.6,102.7 448.1,102.7" fill="none" stroke="#454545" stroke-width="1"/>
<path d="M458.4,119.6C458.9,119 461.4,117.1 461.4,115.8C461.5,114.5 458.6,113.2 458.7,112C458.8,110.7 461.9,109.5 462,108.2C462,106.9 459.5,105 459,104.3" fill="none" stroke="#454545" stroke-width="1"/>
<path d="M440.6,125L441.4,166.5M439.5,125L440.3,166.5" fill="none" stroke="#555" stroke-width="0.5"/>
<path d="M442.2,146.2C442.1,140.7 441.9,131.8 441.9,128C441.8,124.2 441.1,125 441.8,123.5C442.4,121.9 443.3,119.6 445.8,118.7C448.2,117.8 452.8,118.2 456.4,118.3C459.9,118.3 464.5,118.1 467,119.1C469.4,120.1 470.4,122.4 471.1,124C471.8,125.6 471.1,124.8 471.2,128.5C471.3,132.3 471.5,141 471.6,146.5C471.8,152 471.9,158 472,161.5C472.1,165 473,165.3 472.2,167.5C471.4,169.8 469.6,173.5 467.2,174.9C464.8,176.4 460.7,176.1 457.5,176.1C454.3,176.1 450.3,176.4 447.8,174.9C445.3,173.5 443.5,169.7 442.6,167.5C441.7,165.3 442.5,165 442.5,161.5C442.4,158 442.3,151.8 442.2,146.2Z" fill="url(#c15)" stroke="#484848" stroke-width="1.1"/>
<circle cx="459.4" cy="157.4" r="6.2" fill="#111"/>
<path d="M474.6,121.3C474.9,120.8 476.1,119.3 476.4,118.3C476.7,117.3 476.5,116.4 476.3,115.4C476.1,114.3 475.2,113.2 475,112.2C474.8,111.1 474.7,110.1 474.9,109C475.1,107.9 475.8,106.7 476.1,105.6C476.3,104.6 476.4,103.1 476.5,102.6" fill="none" stroke="#454545" stroke-width="1"/>
<path d="M482.1,121.3C481.8,120.7 480.5,118.8 480.7,117.5C480.8,116.2 483,114.8 482.9,113.5C482.8,112.1 480.2,110.7 480.1,109.6C479.9,108.5 482.1,107.7 482.3,106.9C482.5,106.1 482,105.2 481.4,104.8C480.9,104.4 479.3,104.6 478.9,104.6" fill="none" stroke="#454545" stroke-width="1"/>
<path d="M489.5,121.3C490,120.7 492.5,118.8 492.5,117.5C492.5,116.2 489.7,114.9 489.8,113.7C489.8,112.4 492.9,111.1 492.9,109.9C493,108.6 490.5,106.7 490,106" fill="none" stroke="#454545" stroke-width="1"/>
<path d="M471.4,127L472.3,169M470.3,127L471.2,169.1" fill="none" stroke="#555" stroke-width="0.5"/>
<path d="M473.1,148.5C473,142.8 472.8,133.8 472.7,130C472.6,126.2 472,127.1 472.6,125.5C473.2,123.9 474.1,121.6 476.6,120.7C479,119.7 483.8,120 487.5,120C491.1,120 495.8,119.7 498.4,120.7C500.9,121.6 501.8,123.9 502.5,125.5C503.2,127.1 502.5,126.2 502.6,130C502.7,133.8 503,142.7 503.1,148.2C503.2,153.8 503.4,160 503.5,163.5C503.6,167 504.4,167.3 503.6,169.5C502.9,171.8 501.2,175.5 498.7,177C496.2,178.5 492.1,178.3 488.8,178.3C485.5,178.4 481.4,178.7 478.8,177.3C476.3,176 474.5,172.2 473.6,170C472.7,167.8 473.5,167.6 473.4,164C473.4,160.4 473.2,154.2 473.1,148.5Z" fill="url(#c16)" stroke="#484848" stroke-width="1.1"/>
<circle cx="491" cy="159.2" r="6.2" fill="#111"/>
<path d="M540.9,116.8C541.2,116.3 542.4,114.8 542.7,113.8C543,112.8 542.8,111.9 542.6,110.9C542.4,109.8 541.6,108.7 541.3,107.7C541.1,106.6 541.1,105.6 541.2,104.5C541.4,103.4 542.1,102.2 542.4,101.1C542.7,100.1 542.8,98.6 542.8,98.1" fill="none" stroke="#454545" stroke-width="1"/>
<path d="M547.7,116.8C547.5,116.2 546.2,114.3 546.3,113C546.5,111.7 548.6,110.3 548.5,109C548.4,107.6 545.8,106.2 545.7,105.1C545.6,104 547.7,103.2 547.9,102.4C548.1,101.6 547.6,100.7 547.1,100.3C546.5,99.9 544.9,100.1 544.5,100.1" fill="none" stroke="#454545" stroke-width="1"/>
<path d="M554.5,116.8C555,116.2 557.4,114.3 557.4,113C557.5,111.7 554.6,110.4 554.7,109.2C554.7,107.9 557.8,106.6 557.9,105.4C557.9,104.1 555.4,102.2 554.9,101.5" fill="none" stroke="#454545" stroke-width="1"/>
<path d="M530.7,122.5L531.9,165.3M529.6,122.6L530.8,165.4" fill="none" stroke="#555" stroke-width="0.5"/>
<path d="M532.5,144.4C532.3,138.6 532.1,129.4 532,125.5C531.8,121.6 531.2,122.6 531.8,121C532.5,119.4 533.5,117.1 535.8,116.2C538,115.2 542.1,115.5 545.2,115.5C548.4,115.5 552.5,115.2 554.8,116.2C557,117.1 558.2,119.4 558.9,121C559.7,122.6 559,121.7 559.1,125.5C559.2,129.3 559.5,138.3 559.7,144C559.9,149.7 560.1,155.9 560.2,159.5C560.3,163.1 561.2,163.2 560.4,165.5C559.6,167.8 557.8,171.6 555.5,173.1C553.3,174.6 549.9,174.4 547,174.5C544.2,174.6 540.8,174.9 538.4,173.6C536.1,172.2 534,168.5 533.1,166.3C532.2,164.1 533.1,164 533,160.3C532.9,156.7 532.7,150.2 532.5,144.4Z" fill="url(#c18)" stroke="#484848" stroke-width="1.1"/>
<circle cx="549.2" cy="156" r="6.2" fill="#111"/>
<path d="M514.7,121.8C515,121.3 516.2,119.8 516.5,118.8C516.8,117.8 516.7,116.9 516.4,115.9C516.2,114.8 515.4,113.7 515.1,112.7C514.9,111.6 514.9,110.6 515,109.5C515.2,108.4 515.9,107.2 516.2,106.1C516.5,105.1 516.6,103.6 516.6,103.1" fill="none" stroke="#454545" stroke-width="1"/>
<path d="M521.6,121.8C521.4,121.2 520.1,119.3 520.2,118C520.4,116.7 522.6,115.3 522.4,114C522.3,112.6 519.7,111.2 519.6,110.1C519.5,109 521.6,108.2 521.8,107.4C522,106.6 521.5,105.7 521,105.3C520.4,104.9 518.8,105.1 518.4,105.1" fill="none" stroke="#454545" stroke-width="1"/>
<path d="M528.5,121.8C529,121.2 531.4,119.3 531.4,118C531.5,116.7 528.6,115.4 528.7,114.2C528.8,112.9 531.8,111.6 531.9,110.4C531.9,109.1 529.4,107.2 528.9,106.5" fill="none" stroke="#454545" stroke-width="1"/>
<path d="M503.9,127.5L503.9,170.3M502.8,127.5L502.8,170.3" fill="none" stroke="#555" stroke-width="0.5"/>
<path d="M505.1,149.4C505.1,143.6 505.1,134.4 505.1,130.5C505.1,126.6 504.4,127.6 505.1,126C505.8,124.4 506.9,122.1 509.1,121.2C511.4,120.2 515.6,120.5 518.8,120.5C522.1,120.5 526.2,120.2 528.5,121.2C530.9,122.1 532,124.4 532.7,126C533.4,127.6 532.7,126.6 532.7,130.5C532.8,134.4 532.9,143.6 532.9,149.4C533,155.2 533.1,161.7 533.1,165.3C533.2,169 534,169.1 533.2,171.3C532.4,173.5 530.5,177.3 528.2,178.7C525.9,180.2 522.2,179.9 519.2,179.9C516.2,179.9 512.5,180.2 510.2,178.7C507.9,177.3 505.9,173.5 505.1,171.3C504.2,169.1 505.1,169 505.1,165.3C505.1,161.7 505.1,155.2 505.1,149.4Z" fill="url(#c17)" stroke="#484848" stroke-width="1.1"/>
<circle cx="522.3" cy="159.7" r="6.2" fill="#111"/>
<path d="M557.9,121.4C558.2,120.9 559.4,119.4 559.7,118.4C560,117.5 559.9,116.5 559.6,115.5C559.4,114.4 558.6,113.3 558.4,112.3C558.2,111.2 558.2,110.2 558.4,109.1C558.6,108 559.3,106.8 559.6,105.7C559.9,104.7 560,103.3 560,102.8" fill="none" stroke="#454545" stroke-width="1"/>
<path d="M565,121.5C564.8,120.9 563.6,119 563.7,117.7C563.9,116.4 566.1,115 566,113.7C565.9,112.4 563.3,110.9 563.2,109.8C563.1,108.7 565.2,107.9 565.5,107.1C565.7,106.3 565.2,105.4 564.6,105C564.1,104.6 562.5,104.8 562.1,104.7" fill="none" stroke="#454545" stroke-width="1"/>
<path d="M572.2,121.6C572.7,121 575.2,119.1 575.2,117.9C575.3,116.6 572.4,115.3 572.5,114C572.6,112.7 575.7,111.5 575.8,110.3C575.8,109 573.3,107 572.9,106.4" fill="none" stroke="#454545" stroke-width="1"/>
<path d="M551.9,127.1L554.4,169.1M550.8,127.1L553.3,169.1" fill="none" stroke="#555" stroke-width="0.5"/>
<path d="M554.4,148.5C554,142.8 553.5,133.8 553.2,130C553,126.1 552.4,127 553,125.5C553.6,123.9 554.4,121.6 556.8,120.7C559.1,119.8 563.6,120.2 567.1,120.3C570.5,120.3 574.9,120.1 577.4,121.1C579.8,122 580.9,124.4 581.7,126C582.5,127.6 581.8,126.7 582,130.5C582.3,134.3 582.9,143.2 583.3,148.8C583.7,154.4 584.1,160.5 584.4,164C584.6,167.6 585.5,167.8 584.8,170C584.1,172.3 582.5,176 580.1,177.4C577.7,178.9 573.8,178.6 570.6,178.6C567.4,178.6 563.6,178.9 561.1,177.4C558.6,176 556.6,172.2 555.6,170C554.7,167.8 555.5,167.6 555.3,164C555.1,160.4 554.7,154.2 554.4,148.5Z" fill="url(#c19)" stroke="#484848" stroke-width="1.1"/>
<circle cx="571.3" cy="159.7" r="6.2" fill="#111"/>
<path d="M583,121.3C583.3,120.8 584.5,119.3 584.8,118.3C585.1,117.3 584.9,116.4 584.7,115.4C584.4,114.3 583.6,113.2 583.4,112.2C583.2,111.1 583.1,110.1 583.3,109C583.5,107.9 584.2,106.7 584.5,105.6C584.7,104.6 584.8,103.1 584.9,102.6" fill="none" stroke="#454545" stroke-width="1"/>
<path d="M589.9,121.3C589.6,120.7 588.3,118.8 588.5,117.5C588.6,116.2 590.8,114.8 590.7,113.5C590.6,112.1 587.9,110.7 587.8,109.6C587.7,108.5 589.8,107.7 590.1,106.9C590.3,106.1 589.8,105.2 589.2,104.8C588.6,104.4 587.1,104.6 586.7,104.6" fill="none" stroke="#454545" stroke-width="1"/>
<path d="M596.7,121.3C597.2,120.7 599.7,118.8 599.7,117.5C599.7,116.2 596.9,114.9 596.9,113.7C597,112.4 600.1,111.1 600.1,109.9C600.2,108.6 597.6,106.7 597.1,106" fill="none" stroke="#454545" stroke-width="1"/>
<path d="M580.8,127.1L583.7,170.4M579.7,127.1L582.6,170.5" fill="none" stroke="#555" stroke-width="0.5"/>
<path d="M583.5,149.2C583.1,143.3 582.5,133.9 582.2,130C581.9,126 581.3,127 581.9,125.5C582.5,123.9 583.4,121.6 585.6,120.7C587.9,119.7 592.1,120 595.3,120C598.6,120 602.7,119.7 605,120.7C607.4,121.6 608.7,123.9 609.4,125.5C610.2,127 609.5,126.1 609.8,130C610.1,133.8 610.8,142.8 611.2,148.5C611.6,154.2 612.1,160.4 612.4,164C612.7,167.6 613.5,167.7 612.8,170C612.2,172.3 610.5,176.1 608.3,177.7C606,179.2 602.4,179.1 599.5,179.2C596.5,179.4 593,179.8 590.6,178.5C588.1,177.2 586,173.5 585,171.3C584,169.1 584.8,169 584.6,165.3C584.3,161.6 583.9,155 583.5,149.2Z" fill="url(#c20)" stroke="#484848" stroke-width="1.1"/>
<circle cx="598.7" cy="159.7" r="6.2" fill="#111"/>
<path d="M614.1,114.8C614.4,114.3 615.6,112.8 615.9,111.8C616.2,110.8 616.1,109.9 615.8,108.9C615.6,107.8 614.8,106.7 614.6,105.7C614.3,104.6 614.3,103.6 614.4,102.5C614.6,101.4 615.3,100.2 615.6,99.1C615.9,98.1 616,96.6 616,96.1" fill="none" stroke="#454545" stroke-width="1"/>
<path d="M621.5,114.8C621.2,114.2 619.9,112.3 620.1,111C620.2,109.7 622.4,108.3 622.3,107C622.2,105.6 619.5,104.2 619.4,103.1C619.3,102 621.4,101.2 621.7,100.4C621.9,99.6 621.4,98.7 620.8,98.3C620.3,97.9 618.7,98.1 618.3,98.1" fill="none" stroke="#454545" stroke-width="1"/>
<path d="M628.8,114.8C629.3,114.2 631.7,112.3 631.7,111C631.8,109.7 628.9,108.4 629,107.2C629.1,105.9 632.1,104.6 632.2,103.4C632.2,102.1 629.7,100.2 629.2,99.5" fill="none" stroke="#454545" stroke-width="1"/>
<path d="M610.5,120.6L613.8,164.1M609.4,120.7L612.7,164.2" fill="none" stroke="#555" stroke-width="0.5"/>
<path d="M613.4,142.8C612.9,136.8 612.2,127.4 611.9,123.5C611.6,119.5 611,120.5 611.5,119C612.1,117.4 612.9,115.1 615.2,114.2C617.6,113.2 622.3,113.5 625.9,113.5C629.4,113.5 634,113.2 636.5,114.2C638.9,115.1 640,117.4 640.8,119C641.6,120.5 640.8,119.6 641.1,123.5C641.4,127.3 642,136.4 642.3,142.2C642.7,147.9 643.2,154.2 643.4,157.8C643.6,161.4 644.5,161.5 643.8,163.8C643.1,166.1 641.5,169.9 639.2,171.4C636.9,173 633,172.9 630,173C626.9,173.1 623.1,173.5 620.7,172.2C618.2,170.9 616.1,167.2 615,165C614,162.8 614.9,162.7 614.6,159C614.3,155.3 613.8,148.7 613.4,142.8Z" fill="url(#c21)" stroke="#484848" stroke-width="1.1"/>
<circle cx="630.4" cy="153" r="6.2" fill="#111"/>
<path d="M646.8,113.1C647.1,112.6 648.3,111.1 648.6,110.1C648.9,109.1 648.7,108.2 648.5,107.2C648.2,106.1 647.4,105 647.2,104C647,102.9 646.9,101.9 647.1,100.8C647.3,99.7 648,98.5 648.3,97.4C648.5,96.4 648.6,94.9 648.7,94.4" fill="none" stroke="#454545" stroke-width="1"/>
<path d="M654,113.1C653.7,112.5 652.4,110.6 652.6,109.3C652.7,108 654.9,106.6 654.8,105.3C654.7,103.9 652,102.5 651.9,101.4C651.8,100.3 653.9,99.5 654.2,98.7C654.4,97.9 653.9,97 653.3,96.6C652.8,96.2 651.2,96.4 650.8,96.4" fill="none" stroke="#454545" stroke-width="1"/>
<path d="M661.1,113.1C661.6,112.5 664.1,110.6 664.1,109.3C664.1,108 661.3,106.7 661.3,105.5C661.4,104.2 664.5,102.9 664.5,101.7C664.6,100.4 662,98.5 661.6,97.8" fill="none" stroke="#454545" stroke-width="1"/>
<path d="M641,118.8L642.9,161.6M639.9,118.9L641.8,161.6" fill="none" stroke="#555" stroke-width="0.5"/>
<path d="M643.2,140.7C642.9,134.9 642.5,125.7 642.3,121.8C642.1,117.9 641.5,118.9 642.1,117.3C642.7,115.7 643.6,113.4 646,112.5C648.3,111.5 652.8,111.8 656.2,111.8C659.7,111.8 664.1,111.5 666.5,112.5C669,113.4 670.1,115.7 670.9,117.3C671.6,118.8 670.9,117.9 671.1,121.8C671.3,125.6 671.9,134.7 672.2,140.4C672.5,146.1 672.9,152.4 673.1,156C673.3,159.6 674.2,159.8 673.5,162C672.7,164.3 671.1,168 668.7,169.5C666.3,171 662.3,170.8 659.1,170.8C655.9,170.9 652,171.2 649.5,169.8C647,168.5 645.1,164.7 644.1,162.5C643.2,160.3 644,160.2 643.9,156.5C643.7,152.9 643.4,146.4 643.2,140.7Z" fill="url(#c22)" stroke="#484848" stroke-width="1.1"/>
<circle cx="658" cy="152" r="6.2" fill="#111"/>
<polygon points="165.1,25.9 196.5,18.1 212.9,30.7 204.8,32.7 226.7,42.7 218.4,45.2 244.3,62.8 202.8,48.2 211.6,45.7 184.7,37.7 194.8,33.9" fill="#6a6a6a"/>
<defs><radialGradient id="gm" cx="0.45" cy="0.4" r="0.6"><stop offset="0" stop-color="#f2f2f2"/><stop offset="1" stop-color="#cdcdcd"/></radialGradient><linearGradient id="gn" x1="0.2" y1="0" x2="0.7" y2="1"><stop offset="0" stop-color="#4c4c4c"/><stop offset="0.6" stop-color="#777"/><stop offset="1" stop-color="#a8a8a8"/></linearGradient><radialGradient id="gg" cx="0.4" cy="0.35" r="0.7"><stop offset="0" stop-color="#8c8c8c"/><stop offset="1" stop-color="#4a4a4a"/></radialGradient><linearGradient id="gt" x1="0.15" y1="0.1" x2="0.85" y2="0.9"><stop offset="0" stop-color="#9c9c9c"/><stop offset="0.5" stop-color="#5c5c5c"/><stop offset="1" stop-color="#333"/></linearGradient></defs>
<path d="M88,340.3C88.6,340 90.4,338.7 91.4,338.8C92.3,338.9 92.9,340.5 93.8,340.7C94.7,340.9 95.9,339.5 96.7,339.7C97.5,340 98.3,341.7 98.6,342.1M86.8,349.7C87.4,349.5 89.5,348.4 90.4,348.5C91.4,348.7 91.7,350.4 92.6,350.7C93.4,351 94.4,350.8 95.4,350.4C96.3,349.9 97.7,348.3 98.2,347.9M85,355.1C85.4,355.5 86.5,357.2 87.3,357.5C88.1,357.8 89.2,356.6 90,356.8C90.8,357 91.3,358.5 92,358.6C92.8,358.7 94.1,357.5 94.5,357.3M81.9,360.9C82.5,361.2 84.4,361.8 85.4,362.7C86.5,363.6 87.6,365.1 87.9,366.2C88.2,367.4 88,368.8 87.4,369.5C86.9,370.2 84.9,370.3 84.4,370.5M76.8,366.9C77.2,367.7 78.4,370.6 79.5,371.3C80.6,372 82.5,371.8 83.4,371.1C84.3,370.4 84.8,368.2 84.6,367.2C84.4,366.3 82.6,365.7 82.2,365.4M69.1,372.5C69.4,373 70.6,374.3 71,375.4C71.4,376.5 71.7,378 71.5,379C71.3,380 70.5,381.1 69.8,381.3C69,381.6 67.5,380.9 67.1,380.8M62,375.3C61.9,376 61.1,378.3 61.5,379.3C61.8,380.3 63.7,380.4 64.2,381.2C64.6,382.1 63.5,383.8 64,384.5C64.4,385.3 66.5,385.7 67,385.9M57.5,376.3C57.3,376.8 56.3,378.9 56.5,379.8C56.7,380.8 58.5,381.1 58.7,382C59,382.9 57.8,384.3 58.2,385.1C58.5,385.8 60.4,386.4 60.8,386.7M48.7,376.3C48.4,377.1 46.8,379.9 47,381.2C47.2,382.5 48.6,383.9 49.7,384.1C50.8,384.3 52.9,383.3 53.5,382.5C54.1,381.7 53.4,379.9 53.4,379.4M42.2,375.4C41.6,375.8 39.8,377.7 38.4,378.2C37,378.7 35.1,378.9 33.7,378.4C32.3,378 30.7,376 30,375.5M33.4,370.4C33,370.9 31.5,372.1 31,373.2C30.4,374.3 30,376 30.1,377.1C30.2,378.2 30.8,379.4 31.6,379.8C32.3,380.2 34.1,379.6 34.6,379.5M30.3,368.5C30.3,369.1 29.8,371.1 30,372.2C30.3,373.4 31,374.7 31.9,375.5C32.7,376.2 34.8,376.5 35.4,376.7M23.9,360.6C23.1,360.9 19.8,361.6 18.9,362.7C18,363.7 17.9,365.8 18.5,366.8C19.1,367.8 21.3,368.7 22.3,368.7C23.4,368.6 24.3,366.8 24.7,366.5M21.3,355.7C20.7,356 19.3,357.2 18.2,357.6C17,358 15.4,358.2 14.3,357.9C13.3,357.6 12.2,356.8 12,356C11.7,355.2 12.5,353.7 12.6,353.2M18.4,345.9C17.8,345.9 15.8,345.6 14.6,346C13.4,346.3 11.8,347.1 11.1,347.9C10.3,348.8 9.9,350.1 10.1,350.9C10.3,351.8 11.9,352.7 12.3,353M18,339.4C17.2,339.3 14.3,338 13.1,338.3C11.8,338.6 10.6,340.1 10.5,341.2C10.4,342.3 11.6,344.2 12.4,344.7C13.2,345.3 14.9,344.4 15.4,344.3M18.1,334.4C17.6,334 16,332.8 15.4,331.8C14.9,330.7 14.5,329.3 14.7,328.1C14.9,327 16.3,325.4 16.6,324.9M20.7,326.6C20.1,326.2 18.1,324.2 17,324.1C15.8,323.9 14.3,324.8 13.9,325.7C13.5,326.5 13.8,328.5 14.3,329.2C14.9,329.9 16.5,329.7 17,329.8M25.3,318.5C24.7,318.1 22.9,317.4 21.9,316.5C21,315.6 20,314.1 19.8,313C19.5,311.9 19.8,310.5 20.4,309.8C21,309.2 22.9,309.2 23.4,309.1M29.5,313.8C29.3,313.2 29.1,310.9 28.3,310.3C27.6,309.6 26,310.3 25.3,309.8C24.6,309.2 24.8,307.4 24.1,307C23.4,306.6 21.5,307.2 21,307.2M34.2,310.1C34.2,309.5 34.7,307.3 34.3,306.4C33.9,305.6 32.2,305.8 31.6,305.1C31.1,304.5 31,303.5 31.1,302.5C31.3,301.5 32.4,299.7 32.6,299.1M40.4,306.9C40.3,306.1 40.3,303.5 39.7,302.6C39,301.7 37.4,301.3 36.5,301.5C35.6,301.8 34.5,303.4 34.4,304.2C34.2,305 35.5,306 35.7,306.4M51.1,304.5C50.8,303.9 49.2,301.9 49.3,300.7C49.3,299.6 51.2,298.9 51.3,297.9C51.4,296.9 49.8,295.6 50,294.7C50.3,293.7 52.2,292.7 52.7,292.3M54.3,304.5C54.7,303.9 56.5,302.3 56.6,301.3C56.8,300.3 55.1,299.4 55.1,298.5C55,297.5 55.5,296.5 56.3,295.8C57.1,295 59.1,294 59.7,293.7M64.3,306.4C64.7,306 66.3,304.8 66.5,303.9C66.7,303.1 65.4,302.1 65.5,301.4C65.7,300.6 67.2,299.9 67.2,299.2C67.2,298.4 66,297.2 65.7,296.9M69,308.4C69.2,307.7 69.4,305.1 70.2,304.2C70.9,303.4 72.6,303.2 73.4,303.5C74.3,303.9 75.2,305.6 75.3,306.4C75.3,307.2 74,308.1 73.7,308.5M77.1,313.8C77.7,313.6 79.6,312.9 80.8,313C82,313.1 83.4,313.6 84.2,314.4C85.1,315.2 85.6,317.2 85.9,317.7M80.1,317.7C80.6,317.5 82.6,317.4 83.2,316.8C83.8,316.2 83.3,314.7 83.8,314.1C84.3,313.5 85.9,313.8 86.3,313.1C86.7,312.5 86.3,310.9 86.3,310.4M84.7,325.2C85.1,324.8 86.1,323 86.9,322.7C87.8,322.4 88.9,323.6 89.7,323.4C90.5,323.2 91,321.6 91.7,321.5C92.5,321.4 93.8,322.5 94.2,322.7M87.3,333.4C88,333.6 90.3,334.6 91.3,334.3C92.3,334 92.6,332 93.5,331.7C94.4,331.3 96,332.5 96.8,332.1C97.7,331.6 98.1,329.6 98.4,329" fill="none" stroke="#626262" stroke-width="2.9" stroke-linecap="round" stroke-linejoin="round"/>
<path d="M88,340.3C88.6,340 90.4,338.7 91.4,338.8C92.3,338.9 92.9,340.5 93.8,340.7C94.7,340.9 95.9,339.5 96.7,339.7C97.5,340 98.3,341.7 98.6,342.1M86.8,349.7C87.4,349.5 89.5,348.4 90.4,348.5C91.4,348.7 91.7,350.4 92.6,350.7C93.4,351 94.4,350.8 95.4,350.4C96.3,349.9 97.7,348.3 98.2,347.9M85,355.1C85.4,355.5 86.5,357.2 87.3,357.5C88.1,357.8 89.2,356.6 90,356.8C90.8,357 91.3,358.5 92,358.6C92.8,358.7 94.1,357.5 94.5,357.3M81.9,360.9C82.5,361.2 84.4,361.8 85.4,362.7C86.5,363.6 87.6,365.1 87.9,366.2C88.2,367.4 88,368.8 87.4,369.5C86.9,370.2 84.9,370.3 84.4,370.5M76.8,366.9C77.2,367.7 78.4,370.6 79.5,371.3C80.6,372 82.5,371.8 83.4,371.1C84.3,370.4 84.8,368.2 84.6,367.2C84.4,366.3 82.6,365.7 82.2,365.4M69.1,372.5C69.4,373 70.6,374.3 71,375.4C71.4,376.5 71.7,378 71.5,379C71.3,380 70.5,381.1 69.8,381.3C69,381.6 67.5,380.9 67.1,380.8M62,375.3C61.9,376 61.1,378.3 61.5,379.3C61.8,380.3 63.7,380.4 64.2,381.2C64.6,382.1 63.5,383.8 64,384.5C64.4,385.3 66.5,385.7 67,385.9M57.5,376.3C57.3,376.8 56.3,378.9 56.5,379.8C56.7,380.8 58.5,381.1 58.7,382C59,382.9 57.8,384.3 58.2,385.1C58.5,385.8 60.4,386.4 60.8,386.7M48.7,376.3C48.4,377.1 46.8,379.9 47,381.2C47.2,382.5 48.6,383.9 49.7,384.1C50.8,384.3 52.9,383.3 53.5,382.5C54.1,381.7 53.4,379.9 53.4,379.4M42.2,375.4C41.6,375.8 39.8,377.7 38.4,378.2C37,378.7 35.1,378.9 33.7,378.4C32.3,378 30.7,376 30,375.5M33.4,370.4C33,370.9 31.5,372.1 31,373.2C30.4,374.3 30,376 30.1,377.1C30.2,378.2 30.8,379.4 31.6,379.8C32.3,380.2 34.1,379.6 34.6,379.5M30.3,368.5C30.3,369.1 29.8,371.1 30,372.2C30.3,373.4 31,374.7 31.9,375.5C32.7,376.2 34.8,376.5 35.4,376.7M23.9,360.6C23.1,360.9 19.8,361.6 18.9,362.7C18,363.7 17.9,365.8 18.5,366.8C19.1,367.8 21.3,368.7 22.3,368.7C23.4,368.6 24.3,366.8 24.7,366.5M21.3,355.7C20.7,356 19.3,357.2 18.2,357.6C17,358 15.4,358.2 14.3,357.9C13.3,357.6 12.2,356.8 12,356C11.7,355.2 12.5,353.7 12.6,353.2M18.4,345.9C17.8,345.9 15.8,345.6 14.6,346C13.4,346.3 11.8,347.1 11.1,347.9C10.3,348.8 9.9,350.1 10.1,350.9C10.3,351.8 11.9,352.7 12.3,353M18,339.4C17.2,339.3 14.3,338 13.1,338.3C11.8,338.6 10.6,340.1 10.5,341.2C10.4,342.3 11.6,344.2 12.4,344.7C13.2,345.3 14.9,344.4 15.4,344.3M18.1,334.4C17.6,334 16,332.8 15.4,331.8C14.9,330.7 14.5,329.3 14.7,328.1C14.9,327 16.3,325.4 16.6,324.9M20.7,326.6C20.1,326.2 18.1,324.2 17,324.1C15.8,323.9 14.3,324.8 13.9,325.7C13.5,326.5 13.8,328.5 14.3,329.2C14.9,329.9 16.5,329.7 17,329.8M25.3,318.5C24.7,318.1 22.9,317.4 21.9,316.5C21,315.6 20,314.1 19.8,313C19.5,311.9 19.8,310.5 20.4,309.8C21,309.2 22.9,309.2 23.4,309.1M29.5,313.8C29.3,313.2 29.1,310.9 28.3,310.3C27.6,309.6 26,310.3 25.3,309.8C24.6,309.2 24.8,307.4 24.1,307C23.4,306.6 21.5,307.2 21,307.2M34.2,310.1C34.2,309.5 34.7,307.3 34.3,306.4C33.9,305.6 32.2,305.8 31.6,305.1C31.1,304.5 31,303.5 31.1,302.5C31.3,301.5 32.4,299.7 32.6,299.1M40.4,306.9C40.3,306.1 40.3,303.5 39.7,302.6C39,301.7 37.4,301.3 36.5,301.5C35.6,301.8 34.5,303.4 34.4,304.2C34.2,305 35.5,306 35.7,306.4M51.1,304.5C50.8,303.9 49.2,301.9 49.3,300.7C49.3,299.6 51.2,298.9 51.3,297.9C51.4,296.9 49.8,295.6 50,294.7C50.3,293.7 52.2,292.7 52.7,292.3M54.3,304.5C54.7,303.9 56.5,302.3 56.6,301.3C56.8,300.3 55.1,299.4 55.1,298.5C55,297.5 55.5,296.5 56.3,295.8C57.1,295 59.1,294 59.7,293.7M64.3,306.4C64.7,306 66.3,304.8 66.5,303.9C66.7,303.1 65.4,302.1 65.5,301.4C65.7,300.6 67.2,299.9 67.2,299.2C67.2,298.4 66,297.2 65.7,296.9M69,308.4C69.2,307.7 69.4,305.1 70.2,304.2C70.9,303.4 72.6,303.2 73.4,303.5C74.3,303.9 75.2,305.6 75.3,306.4C75.3,307.2 74,308.1 73.7,308.5M77.1,313.8C77.7,313.6 79.6,312.9 80.8,313C82,313.1 83.4,313.6 84.2,314.4C85.1,315.2 85.6,317.2 85.9,317.7M80.1,317.7C80.6,317.5 82.6,317.4 83.2,316.8C83.8,316.2 83.3,314.7 83.8,314.1C84.3,313.5 85.9,313.8 86.3,313.1C86.7,312.5 86.3,310.9 86.3,310.4M84.7,325.2C85.1,324.8 86.1,323 86.9,322.7C87.8,322.4 88.9,323.6 89.7,323.4C90.5,323.2 91,321.6 91.7,321.5C92.5,321.4 93.8,322.5 94.2,322.7M87.3,333.4C88,333.6 90.3,334.6 91.3,334.3C92.3,334 92.6,332 93.5,331.7C94.4,331.3 96,332.5 96.8,332.1C97.7,331.6 98.1,329.6 98.4,329" fill="none" stroke="#fbfbfb" stroke-width="1.6" stroke-linecap="round" stroke-linejoin="round"/>
<ellipse cx="53" cy="340.5" rx="36.5" ry="38.5" fill="url(#gm)" stroke="#bbb" stroke-width="0.6"/>
<circle cx="43.4" cy="306.9" r="2.25" fill="url(#gg)"/>
<circle cx="49.3" cy="306.5" r="2.25" fill="url(#gg)"/>
<circle cx="54" cy="306.4" r="2.25" fill="url(#gg)"/>
<circle cx="58.3" cy="305.7" r="2.25" fill="url(#gg)"/>
<circle cx="63.3" cy="306.9" r="2.25" fill="url(#gg)"/>
<circle cx="36.5" cy="311.3" r="2.25" fill="url(#gg)"/>
<circle cx="40.9" cy="311.2" r="2.25" fill="url(#gg)"/>
<circle cx="46.6" cy="310.9" r="2.25" fill="url(#gg)"/>
<circle cx="51.4" cy="310.6" r="2.25" fill="url(#gg)"/>
<circle cx="56.4" cy="310.9" r="2.25" fill="url(#gg)"/>
<circle cx="60.8" cy="310.9" r="2.25" fill="url(#gg)"/>
<circle cx="67.2" cy="311.3" r="2.25" fill="url(#gg)"/>
<circle cx="71.9" cy="310.6" r="2.25" fill="url(#gg)"/>
<circle cx="28.5" cy="315.2" r="2.25" fill="url(#gg)"/>
<circle cx="33.5" cy="315.8" r="2.25" fill="url(#gg)"/>
<circle cx="38.1" cy="314.5" r="2.25" fill="url(#gg)"/>
<circle cx="43.3" cy="315.4" r="2.25" fill="url(#gg)"/>
<circle cx="48.2" cy="314.7" r="2.25" fill="url(#gg)"/>
<circle cx="54.3" cy="315.4" r="2.25" fill="url(#gg)"/>
<circle cx="58.8" cy="315.7" r="2.25" fill="url(#gg)"/>
<circle cx="63.7" cy="315.4" r="2.25" fill="url(#gg)"/>
<circle cx="68.6" cy="315.1" r="2.25" fill="url(#gg)"/>
<circle cx="74.6" cy="315.8" r="2.25" fill="url(#gg)"/>
<circle cx="25.4" cy="319.2" r="2.25" fill="url(#gg)"/>
<circle cx="30.7" cy="319.3" r="2.25" fill="url(#gg)"/>
<circle cx="35.5" cy="319.5" r="2.25" fill="url(#gg)"/>
<circle cx="41.2" cy="319.6" r="2.25" fill="url(#gg)"/>
<circle cx="45.8" cy="320.1" r="2.25" fill="url(#gg)"/>
<circle cx="51.9" cy="319.6" r="2.25" fill="url(#gg)"/>
<circle cx="55.7" cy="319" r="2.25" fill="url(#gg)"/>
<circle cx="61.9" cy="319" r="2.25" fill="url(#gg)"/>
<circle cx="66.8" cy="319.7" r="2.25" fill="url(#gg)"/>
<circle cx="71.3" cy="320" r="2.25" fill="url(#gg)"/>
<circle cx="76" cy="319.1" r="2.25" fill="url(#gg)"/>
<circle cx="23.3" cy="324" r="2.25" fill="url(#gg)"/>
<circle cx="28.4" cy="324.3" r="2.25" fill="url(#gg)"/>
<circle cx="33.8" cy="324.7" r="2.25" fill="url(#gg)"/>
<circle cx="38.7" cy="323.6" r="2.25" fill="url(#gg)"/>
<circle cx="43.5" cy="323.6" r="2.25" fill="url(#gg)"/>
<circle cx="48" cy="324" r="2.25" fill="url(#gg)"/>
<circle cx="54" cy="323.6" r="2.25" fill="url(#gg)"/>
<circle cx="58.5" cy="323.8" r="2.25" fill="url(#gg)"/>
<circle cx="64.2" cy="324.1" r="2.25" fill="url(#gg)"/>
<circle cx="69.2" cy="324.4" r="2.25" fill="url(#gg)"/>
<circle cx="74" cy="324.5" r="2.25" fill="url(#gg)"/>
<circle cx="79.8" cy="323.5" r="2.25" fill="url(#gg)"/>
<circle cx="26.2" cy="328.9" r="2.25" fill="url(#gg)"/>
<circle cx="31.4" cy="328.4" r="2.25" fill="url(#gg)"/>
<circle cx="36.1" cy="328.1" r="2.25" fill="url(#gg)"/>
<circle cx="41.3" cy="328.9" r="2.25" fill="url(#gg)"/>
<circle cx="46.3" cy="328.8" r="2.25" fill="url(#gg)"/>
<circle cx="50.8" cy="329.1" r="2.25" fill="url(#gg)"/>
<circle cx="57" cy="329.2" r="2.25" fill="url(#gg)"/>
<circle cx="61.5" cy="328.9" r="2.25" fill="url(#gg)"/>
<circle cx="66.2" cy="329.1" r="2.25" fill="url(#gg)"/>
<circle cx="72.1" cy="328.3" r="2.25" fill="url(#gg)"/>
<circle cx="76.1" cy="328.4" r="2.25" fill="url(#gg)"/>
<circle cx="81.9" cy="328.9" r="2.25" fill="url(#gg)"/>
<circle cx="23.6" cy="332.5" r="2.25" fill="url(#gg)"/>
<circle cx="28" cy="333.3" r="2.25" fill="url(#gg)"/>
<circle cx="32.8" cy="332.4" r="2.25" fill="url(#gg)"/>
<circle cx="38.5" cy="333.2" r="2.25" fill="url(#gg)"/>
<circle cx="44" cy="333.2" r="2.25" fill="url(#gg)"/>
<circle cx="49.3" cy="332.9" r="2.25" fill="url(#gg)"/>
<circle cx="54.4" cy="332.4" r="2.25" fill="url(#gg)"/>
<circle cx="58.5" cy="333" r="2.25" fill="url(#gg)"/>
<circle cx="84.8" cy="333.5" r="2.25" fill="url(#gg)"/>
<circle cx="20.7" cy="337" r="2.25" fill="url(#gg)"/>
<circle cx="25.8" cy="337.4" r="2.25" fill="url(#gg)"/>
<circle cx="40.9" cy="337.8" r="2.25" fill="url(#gg)"/>
<circle cx="46.2" cy="337.4" r="2.25" fill="url(#gg)"/>
<circle cx="86.5" cy="337.5" r="2.25" fill="url(#gg)"/>
<circle cx="76.4" cy="364.3" r="2.25" fill="url(#gg)"/>
<circle cx="74.3" cy="368.4" r="2.25" fill="url(#gg)"/>
<circle cx="40.5" cy="373.4" r="2.25" fill="url(#gg)"/>
<circle cx="56.6" cy="373" r="2.25" fill="url(#gg)"/>
<circle cx="61.5" cy="373.1" r="2.25" fill="url(#gg)"/>
<circle cx="66.9" cy="372.4" r="2.25" fill="url(#gg)"/>
<circle cx="53.2" cy="376.8" r="2.25" fill="url(#gg)"/>
<circle cx="86.7" cy="345.8" r="2.25" fill="url(#gg)"/>
<circle cx="85.6" cy="350.8" r="2.25" fill="url(#gg)"/>
<circle cx="83.8" cy="355.6" r="2.25" fill="url(#gg)"/>
<circle cx="81.3" cy="360" r="2.25" fill="url(#gg)"/>
<circle cx="46.5" cy="375" r="2.25" fill="url(#gg)"/>
<circle cx="32.9" cy="368.8" r="2.25" fill="url(#gg)"/>
<circle cx="29" cy="365.5" r="2.25" fill="url(#gg)"/>
<circle cx="25.8" cy="361.6" r="2.25" fill="url(#gg)"/>
<circle cx="23.1" cy="357.3" r="2.25" fill="url(#gg)"/>
<circle cx="21" cy="352.6" r="2.25" fill="url(#gg)"/>
<circle cx="19.6" cy="347.7" r="2.25" fill="url(#gg)"/>
<circle cx="19" cy="342.6" r="2.25" fill="url(#gg)"/>
<path d="M21.6,340.5C23.2,338.3 28.9,338.3 32.5,338.3C36.1,338.3 39.3,340.7 43.3,340.5C47.3,340.3 52,338.5 56.3,337.2C60.6,335.9 65.3,333.4 69.3,332.9C73.2,332.4 77.7,332.7 80,334C82.3,335.3 82.9,337.6 83.3,340.5C83.7,343.4 83.5,347.7 82.3,351.3C81,354.9 78.7,359.2 75.8,362.1C72.9,365 69.3,366.9 65,368.5C60.7,370.1 54.5,371.6 49.8,371.8C45.1,372 40.4,371.3 36.8,369.7C33.2,368.1 30.5,365.2 28.1,362.1C25.8,359 23.8,354.9 22.7,351.3C21.6,347.7 20,342.7 21.6,340.5Z" fill="url(#gn)" stroke="#555" stroke-width="0.5"/>
<path d="M38,353q3,-2.5 6,-1.5q1.5,2.5 -1,5q-3,1.5 -5,-0.5z" fill="#eee"/>
<path d="M57,348.5q2,-1.5 3,0q0.3,3.5 -1.5,5q-2,0 -2,-2z" fill="#eee"/>
<path d="M546.2,366.1C548,363.7 551.1,362.4 554.4,361.2C557.6,360 562.1,359.2 565.7,358.8C569.4,358.4 573.9,358.1 576.3,358.8C578.7,359.5 578.7,361.7 580.3,362.9C581.9,364.1 584.2,364.5 586,366.1C587.8,367.7 589.5,369.9 590.9,372.6C592.2,375.3 593.7,379.2 594.1,382.3C594.5,385.4 594.2,388.9 593.3,391.3C592.3,393.7 590.3,395.4 588.4,396.9C586.5,398.4 583.5,398.8 581.9,400.2C580.3,401.6 580.6,403.9 578.7,405.1C576.8,406.3 573.6,407.1 570.6,407.5C567.6,407.9 563.5,408 560.8,407.5C558.1,407 556.4,406.1 554.4,404.3C552.4,402.5 550.2,398.9 548.7,396.9C547.2,394.9 546.5,394 545.4,392.1C544.3,390.2 542.5,388.3 542.2,385.6C541.9,382.9 543.1,379.1 543.8,375.8C544.5,372.6 544.4,368.5 546.2,366.1Z" fill="#d2d2d2" stroke="#6a6a6a" stroke-width="0.9"/>
<path d="M547,377.5C547.7,375.3 548.8,372.9 551.1,371C553.4,369.1 557.8,367.5 560.8,366.1C563.8,364.8 566.3,363.3 569,362.9C571.7,362.5 574.7,362.9 577.1,363.7C579.5,364.5 581.6,365.9 583.6,367.7C585.6,369.4 588.1,371.9 589.3,374.2C590.5,376.5 591.2,379.1 590.9,381.5C590.6,383.9 589.4,386.9 587.6,388.8C585.8,390.7 582.3,391.4 580.3,392.9C578.3,394.4 577.7,396.4 575.5,397.8C573.3,399.2 569.8,400.6 567.3,401C564.8,401.4 562.7,401 560.8,400.2C558.9,399.4 557.8,397.7 556,396.1C554.2,394.5 551.8,392.5 550.3,390.5C548.8,388.5 547.5,386.2 547,384C546.5,381.8 546.3,379.7 547,377.5Z" fill="url(#gt)" stroke="#333" stroke-width="0.7"/>
<path d="M293.8,147.4L291.6,144.4L289.1,141.8L286.5,139.5L283.6,137.6L280.5,135.9L277.3,134.6L274,133.5L270.6,132.6L267,131.9L263.4,131.5L259.7,131.2L256,131L252.2,131L248.4,131.2L244.6,131.4L240.9,131.8L237.1,132.3L233.4,132.8L229.6,133.5L226,134.2L222.3,134.9L218.7,135.8L215.2,136.6L211.7,137.6L208.3,138.6L204.9,139.6L201.5,140.7L198.2,141.9L195,143.1L191.8,144.4L188.6,145.8L185.4,147.2L182.2,148.7L179.1,150.3L175.9,152.1L172.8,153.9L169.6,155.9L166.3,158L163,160.3L163.5,161.3L166.7,159.3L170,157.5L173.3,155.8L176.6,154.1L180,152.6L183.4,151.1L186.9,149.8L190.4,148.5L193.9,147.4L197.5,146.3L201.1,145.3L204.7,144.5L208.4,143.7L212,143L215.7,142.4L219.4,141.9L223.1,141.5L226.8,141.2L230.5,141L234.2,140.9L237.9,140.9L241.6,141.1L245.4,141.3L249,141.7L252.7,142.2L256.4,142.8L260,143.6L263.6,144.5L267.2,145.5L270.8,146.7L274.3,148.1L281.4,156.2Z" fill="#5a5a5a" stroke="#333" stroke-width="0.8" stroke-linejoin="miter"/>
<path d="M164,160.3L160.9,162.3L157.8,164.3L154.7,166.2L151.7,168.1L148.7,170.1L145.7,172L142.7,173.9L139.7,175.9L136.8,177.9L133.9,180L131.1,182.1L128.3,184.2L125.5,186.4L122.7,188.7L120,191L117.3,193.3L114.6,195.7L112,198.1L109.4,200.6L106.8,203.1L104.2,205.7L101.7,208.3L99.1,210.9L96.6,213.5L94.1,216.2L91.7,218.8L89.2,221.5L86.8,224.2L84.4,227L82,229.7L79.7,232.4L77.4,235.2L75.2,238L73.1,240.8L71,243.6L69,246.4L67,249.3L65.2,252.2L63.5,255.2L62,258.3L60.6,261.5L59.4,264.7L58.4,268.1L57.6,271.6L57.1,275.3L56.8,279.2L56.9,283.3L51,289.2L69,296.4L77.3,272.2L71.3,275.5L71.5,271.6L71.9,267.8L72.4,264.1L73.1,260.5L74,257.1L75,253.7L76.1,250.4L77.5,247.1L78.9,244L80.5,240.8L82.2,237.7L84,234.7L86,231.7L88,228.7L90.2,225.8L92.5,222.9L94.8,220L97.2,217.2L99.7,214.3L102.2,211.6L104.7,208.8L107.4,206.1L110,203.5L112.7,200.9L115.4,198.3L118.1,195.7L120.8,193.2L123.5,190.8L126.2,188.4L129,186.1L131.7,183.8L134.5,181.5L137.3,179.3L140.1,177.2L142.9,175.1L145.8,173L148.7,171L151.6,169L154.7,167.1L157.8,165.1L161.1,163.2L164.5,161.3Z" fill="#8c8c8c" stroke="#333" stroke-width="0.8" stroke-linejoin="miter"/>
<path d="M106.1,328.9L108.6,331.5L111.3,333.9L114.1,336.2L117.1,338.3L120.1,340.2L123.3,341.9L126.6,343.4L129.9,344.8L133.3,346L136.8,347L140.3,347.9L143.8,348.6L147.4,349.1L150.9,349.5L154.5,349.8L158.1,349.9L161.7,349.8L165.3,349.6L168.9,349.3L172.4,348.9L176,348.3L179.5,347.6L183,346.8L186.5,345.9L189.9,345L193.4,343.9L196.8,342.7L200.1,341.5L203.5,340.2L206.8,338.8L210.1,337.3L213.4,335.8L216.6,334.3L219.9,332.6L223.1,331L226.3,329.3L229.4,327.6L232.6,325.8L235.7,324L238.8,322.2L241.9,320.4L245,318.5L248,316.5L251,314.6L254,312.6L256.9,310.6L259.9,308.5L262.7,306.4L265.6,304.2L268.3,301.9L271,299.5L273.7,297.1L276.2,294.5L278.7,291.8L281,289L281.6,289.8L279.3,292.7L277,295.4L274.5,298L271.9,300.5L269.3,302.9L266.5,305.2L263.7,307.5L260.9,309.7L258,311.8L255.1,314L252.1,316L249.2,318.1L246.2,320.1L243.1,322.1L240.1,324L237,326L233.9,327.9L230.8,329.7L227.7,331.6L224.6,333.4L221.4,335.1L218.2,336.8L215,338.5L211.8,340.1L208.6,341.7L205.4,343.2L202.1,344.7L198.8,346.1L195.5,347.5L192.1,348.8L188.7,350L185.3,351.2L181.9,352.3L178.4,353.3L175,354.3L171.5,355.2L167.9,356L164.4,356.7L160.8,357.3L157.2,357.9L153.6,358.4L150,358.8L146.4,359.1L142.7,359.2L139.1,359.3L135.5,359.3L131.9,359.1L128.3,358.8L124.8,358.3L121.3,357.7L117.8,356.9L114.5,355.8L111.2,354.6L107.9,353.1L104.8,351.3L101.8,349.2L98.9,346.8L92.7,337.9Z" fill="#454545" stroke="#333" stroke-width="0.8" stroke-linejoin="miter"/>
<defs><linearGradient id="g2" gradientUnits="userSpaceOnUse" x1="285" y1="288" x2="318" y2="196"><stop offset="0" stop-color="#585858"/><stop offset="0.6" stop-color="#727272"/><stop offset="1" stop-color="#787878"/></linearGradient></defs>
<path d="M281,288.8L283,285.7L285.1,282.7L287.2,279.7L289.3,276.7L291.5,273.8L293.5,270.8L295.6,267.8L297.6,264.7L299.5,261.6L301.3,258.5L303.1,255.3L304.7,252L306.2,248.7L307.6,245.3L308.8,241.8L309.9,238.3L310.9,234.8L311.6,231.2L312.3,227.6L312.7,223.9L313,220.3L313.1,216.6L313,213L305.5,217L314.4,191L334.6,198.6L327.9,202.5L328.6,206.3L328.9,210L328.9,213.6L328.6,217.2L328,220.7L327.2,224.2L326.2,227.6L325,231L323.7,234.4L322.3,237.7L320.7,241L319.1,244.3L317.3,247.5L315.5,250.8L313.7,254L311.8,257.1L309.8,260.3L307.8,263.4L305.8,266.4L303.7,269.4L301.5,272.3L299.3,275.2L296.9,277.9L294.5,280.5L291.9,283.1L289.2,285.5L286.4,287.7L283.3,289.8Z" fill="url(#g2)" stroke="#333" stroke-width="0.8" stroke-linejoin="miter"/>
<path d="M280.2,288.5L281.2,287.3L282.3,286.2L283.4,285.3L284.7,284.5L286,283.9L287.4,283.4L288.9,283L290.4,282.7L291.9,282.5L293.4,282.3L294.9,282.3L296.4,282.3L297.9,282.3L297.9,282.3L301.5,282.4L305.1,282.5L308.7,282.6L312.3,282.8L315.8,283L319.4,283.2L323,283.5L326.5,283.8L330.1,284.2L333.6,284.6L337.2,285L340.7,285.5L344.2,286L347.7,286.5L351.2,287.1L354.7,287.7L358.2,288.4L361.7,289L365.2,289.8L368.7,290.5L372.1,291.3L375.6,292.1L379.1,293L382.5,293.8L386,294.7L389.4,295.7L392.8,296.6L396.3,297.6L399.7,298.6L403.1,299.6L406.5,300.7L410,301.8L413.4,302.9L416.8,304L420.2,305.1L423.6,306.2L427,307.4L430.4,308.6L433.7,309.8L437.1,311L440.5,312.2L443.9,313.5L447.2,314.8L450.6,316L453.9,317.3L457.3,318.6L460.6,320L463.9,321.3L467.2,322.7L470.5,324.1L473.8,325.5L477.1,326.9L480.3,328.4L483.6,329.9L486.8,331.4L490,332.9L493.2,334.5L496.3,336.1L499.5,337.8L502.6,339.5L505.7,341.2L508.7,343L511.7,344.8L514.7,346.8L517.7,348.7L520.6,350.8L523.4,352.9L526.3,355.1L529,357.4L531.7,359.7L534.4,362.2L529.5,368.5L520.3,358.7L522.5,358.2L520.1,355.4L517.6,352.8L515,350.3L512.3,347.9L509.5,345.7L506.6,343.6L503.7,341.5L500.7,339.6L497.6,337.7L494.5,336L491.3,334.3L488.1,332.6L484.9,331L481.7,329.5L478.4,328L475.1,326.5L471.8,325.1L468.4,323.7L465.1,322.4L461.7,321L458.4,319.7L455,318.4L451.6,317.1L448.2,315.8L444.8,314.6L441.5,313.3L438.1,312.1L434.7,310.9L431.3,309.7L427.9,308.5L424.5,307.3L421.1,306.1L417.7,305L414.3,303.8L410.9,302.7L407.5,301.6L404.1,300.5L400.7,299.4L397.2,298.4L393.8,297.4L390.4,296.4L386.9,295.4L383.5,294.5L380,293.5L376.5,292.7L373,291.8L369.5,291L366,290.2L362.4,289.5L358.9,288.8L355.3,288.2L351.7,287.6L348.2,287L344.6,286.5L341,286L337.4,285.6L333.7,285.3L330.1,285L326.5,284.7L322.9,284.5L319.3,284.3L315.7,284.2L312.1,284.1L308.5,284.1L304.9,284.1L301.4,284.2L297.9,284.3L297.9,284.3L297.1,284.5L296.4,284.7L295.6,285L294.9,285.3L294.2,285.6L293.5,286L292.9,286.4L292.3,286.8L291.7,287.3L291.1,287.8L290.6,288.4L290.1,289L289.6,289.6L287.5,293.3L283.3,291.7Z" fill="#505050" stroke="#222" stroke-width="0.7" stroke-linejoin="miter"/>
<defs><linearGradient id="g3" gradientUnits="userSpaceOnUse" x1="540" y1="400" x2="360" y2="200"><stop offset="0.5" stop-color="#3a3a3a"/><stop offset="0.62" stop-color="#5e5e5e"/></linearGradient></defs>
<path d="M534.5,391.9L531.5,394.1L528.3,395.9L525,397.1L521.6,398L518.1,398.5L514.7,398.8L511.1,398.7L507.6,398.4L504,397.9L500.5,397.3L496.9,396.5L493.4,395.5L489.9,394.4L486.5,393.2L483.1,391.9L479.7,390.5L476.4,389.1L473.1,387.5L469.9,385.9L466.7,384.3L463.5,382.5L460.4,380.7L457.4,378.9L454.4,377L451.5,375L448.6,373L445.7,370.9L442.9,368.8L440.1,366.6L437.4,364.3L434.7,362L432,359.7L429.4,357.3L426.8,354.9L424.3,352.4L421.8,349.8L419.3,347.3L416.9,344.6L414.5,342L412.1,339.3L409.7,336.6L407.4,333.8L405.2,331L402.9,328.2L400.7,325.3L398.5,322.4L396.4,319.5L394.2,316.6L392.2,313.6L390.1,310.7L388.1,307.7L386.2,304.7L384.2,301.6L382.3,298.6L380.5,295.5L378.7,292.4L377,289.3L375.3,286.2L373.6,283.1L372.1,279.9L370.5,276.7L369.1,273.5L367.7,270.2L366.3,266.9L365.1,263.6L363.9,260.2L362.8,256.8L361.7,253.4L360.8,249.9L360,246.4L359.2,242.9L358.6,239.3L358.1,235.7L357.7,232L357.4,228.4L357.3,224.7L357.3,221.1L357.5,217.5L357.9,213.9L358.4,210.4L359.2,207L360.2,203.6L361.4,200.5L356.1,194.3L375.5,193.4L375.5,218.9L370.7,212.4L369.7,215.9L368.8,219.4L368.1,222.9L367.6,226.5L367.3,230L367.2,233.6L367.1,237.1L367.3,240.6L367.6,244.2L368,247.7L368.5,251.2L369.2,254.7L369.9,258.2L370.8,261.7L371.8,265.2L372.8,268.6L373.9,272L375.2,275.4L376.4,278.8L377.8,282.2L379.2,285.5L380.7,288.8L382.2,292.1L383.8,295.3L385.4,298.5L387.1,301.7L388.8,304.9L390.6,308L392.4,311.2L394.2,314.3L396.1,317.3L398,320.3L400,323.3L401.9,326.3L404,329.3L406,332.2L408.1,335.1L410.2,337.9L412.4,340.8L414.6,343.6L416.8,346.3L419.1,349.1L421.4,351.8L423.8,354.5L426.1,357.1L428.6,359.8L431.1,362.4L433.6,364.9L436.1,367.4L438.7,369.9L441.3,372.4L444,374.8L446.7,377.2L449.5,379.5L452.3,381.8L455.1,384.1L458,386.3L460.9,388.4L463.9,390.5L466.9,392.5L469.9,394.5L473,396.4L476.1,398.2L479.2,399.9L482.4,401.5L485.6,403.1L488.9,404.5L492.2,405.8L495.5,407L498.9,408L502.3,408.9L505.8,409.6L509.4,410.1L513,410.4L516.7,410.5L520.2,400.2L542.4,403.8Z" fill="url(#g3)" stroke="#333" stroke-width="0.8" stroke-linejoin="miter"/>
<path d="M119.6,383.6L121.6,386.5L123.8,389.4L126,392.2L128.3,394.9L130.7,397.6L133.2,400.2L135.8,402.6L138.4,405L141.2,407.2L144,409.4L146.9,411.4L149.9,413.3L153,415.1L156.1,416.9L159.2,418.5L162.4,420.1L165.7,421.6L168.9,423L172.2,424.4L175.6,425.7L178.9,427L182.3,428.2L185.6,429.5L189,430.6L192.4,431.8L195.8,432.9L199.1,434L202.5,435.1L205.9,436.2L209.3,437.3L212.7,438.3L216.1,439.4L219.5,440.4L222.9,441.4L226.3,442.4L229.7,443.4L233.1,444.3L236.5,445.2L240,446.1L243.4,447L246.8,447.8L250.3,448.7L253.8,449.4L257.3,450.2L260.8,450.9L264.3,451.6L267.8,452.2L271.4,452.9L274.9,453.4L278.5,454L282.1,454.5L285.6,455L289.2,455.5L292.8,456L296.3,456.4L299.9,456.9L303.5,457.3L307,457.8L310.5,458.2L314.1,458.6L317.6,459L321.1,459.5L324.5,459.9L328,460.4L331.5,460.8L334.9,461.2L338.4,461.6L341.8,462L345.4,462.3L348.9,462.6L352.5,462.7L356.2,462.8L360,462.6L360,464.4L356.5,464.5L352.9,464.5L349.4,464.4L345.9,464.2L342.3,463.9L338.8,463.5L335.3,463.1L331.7,462.7L328.2,462.2L324.7,461.8L321.1,461.3L317.6,460.8L314.1,460.3L310.6,459.9L307,459.4L303.5,458.9L300,458.4L296.5,457.9L293,457.5L289.5,457L285.9,456.5L282.4,455.9L278.9,455.4L275.4,454.9L271.9,454.3L268.5,453.8L265,453.2L261.5,452.6L258,452L254.5,451.4L251,450.7L247.5,450.1L244.1,449.4L240.6,448.7L237.1,447.9L233.7,447.2L230.2,446.5L226.7,445.7L223.2,444.9L219.8,444.1L216.3,443.3L212.9,442.5L209.4,441.7L205.9,440.8L202.5,440L199,439.1L195.6,438.2L192.1,437.3L188.7,436.4L185.3,435.5L181.9,434.5L178.4,433.5L175,432.5L171.6,431.5L168.3,430.4L164.9,429.3L161.6,428.2L158.2,427L154.9,425.7L151.7,424.4L148.4,423L145.2,421.6L142,420L138.9,418.4L135.8,416.7L132.8,414.9L129.8,412.9L126.9,410.9L124,408.8L121.2,406.6L118.5,404.2L115.8,401.8L113.3,399.3L110.8,396.6L108.5,393.9L106.2,391.1L104.1,388.3L102.1,385.4L100.2,382.5L98.5,379.6L91.3,379.5L105.4,361.3L129.2,382.6Z" fill="#484848" stroke="#333" stroke-width="0.8" stroke-linejoin="miter"/>
<path d="M360,462.6L363.5,462.8L367.1,462.8L370.7,462.6L374.2,462.3L377.8,461.9L381.4,461.4L385,460.9L388.5,460.3L392.1,459.7L395.7,459.2L399.2,458.6L402.8,458.1L406.4,457.5L409.9,457L413.5,456.5L417,455.9L420.5,455.4L424.1,454.8L427.6,454.2L431.1,453.5L434.6,452.8L438.1,452L441.6,451.2L445.1,450.3L448.6,449.4L452,448.3L455.4,447.2L458.8,446L462.2,444.7L465.5,443.4L468.9,441.9L472.1,440.4L475.4,438.9L478.6,437.2L481.7,435.5L484.9,433.7L487.9,431.9L490.9,430L493.9,428.1L496.9,426.1L499.7,424L502.6,421.9L505.4,419.8L508.1,417.5L510.8,415.2L513.5,412.7L516.2,410.1L520.2,400.2L542.4,403.8L542.4,403.8L539.6,406.1L536.9,408.4L534.2,410.8L531.6,413.3L528.9,415.7L526.3,418.2L523.7,420.6L521,423L518.2,425.3L515.5,427.6L512.6,429.7L509.7,431.9L506.7,433.9L503.7,435.8L500.6,437.7L497.5,439.4L494.2,441.1L491,442.7L487.7,444.2L484.3,445.6L481,446.9L477.5,448.1L474.1,449.3L470.6,450.3L467.1,451.4L463.7,452.3L460.1,453.2L456.6,454L453.1,454.8L449.6,455.5L446,456.2L442.5,456.8L439,457.4L435.4,458L431.9,458.5L428.4,459L424.8,459.5L421.2,459.9L417.7,460.3L414.1,460.7L410.5,461.1L406.9,461.5L403.3,461.8L399.7,462.1L396,462.4L392.4,462.7L388.7,462.9L385,463.2L381.4,463.4L377.7,463.6L374.1,463.8L370.5,464L366.9,464.1L363.4,464.3L360,464.4Z" fill="#3c3c3c" stroke="#333" stroke-width="0.8" stroke-linejoin="miter"/>
<path d="M391,172.6L393.8,170.1L396.8,167.9L399.9,166.1L403.2,164.5L406.6,163.3L410,162.2L413.6,161.4L417.1,160.9L420.8,160.5L424.4,160.3L428.1,160.2L431.8,160.4L435.5,160.6L439.1,161.1L442.8,161.6L446.4,162.3L450,163.2L453.5,164.1L457,165.2L460.5,166.4L463.9,167.7L467.3,169.1L470.6,170.6L473.9,172.1L477.1,173.8L480.3,175.6L483.4,177.4L486.5,179.3L489.6,181.3L492.6,183.3L495.6,185.4L498.5,187.5L501.5,189.7L504.4,191.9L507.3,194.1L510.1,196.3L513,198.6L515.8,200.9L518.7,203.1L521.5,205.5L524.3,207.8L527.2,210.1L530,212.5L530,213.5L527.3,211.3L524.4,209.1L521.6,206.9L518.6,204.7L515.7,202.6L512.7,200.5L509.7,198.4L506.6,196.4L503.6,194.4L500.5,192.5L497.4,190.6L494.3,188.8L491.2,187L488,185.4L484.8,183.7L481.6,182.2L478.3,180.7L475,179.4L471.6,178.1L468.2,176.9L464.8,175.8L461.3,174.8L457.8,174L454.2,173.3L450.6,172.7L447,172.2L443.4,171.9L439.7,171.8L436.1,171.8L432.4,172.1L428.8,172.5L425.3,173.2L421.8,174.1L418.4,175.2L415.1,176.6L412,178.3L409,180.2L406.1,182.5L403.5,185.1Z" fill="#585858" stroke="#333" stroke-width="0.8" stroke-linejoin="miter"/>
<path d="M529.5,211.6L532.4,214L535.2,216.4L537.9,218.9L540.6,221.3L543.1,223.8L545.7,226.3L548.1,228.8L550.6,231.4L553,234L555.4,236.7L557.8,239.3L560.2,242.1L562.5,244.8L564.8,247.6L567.1,250.5L569.3,253.3L571.5,256.2L573.7,259.2L575.8,262.1L577.9,265.1L579.8,268.1L581.8,271.2L583.7,274.3L585.5,277.4L587.2,280.6L588.8,283.8L590.4,287L591.9,290.3L593.3,293.6L594.6,296.9L595.8,300.3L597,303.7L598,307.2L598.9,310.7L599.7,314.3L600.4,317.9L601,321.5L601.3,325.1L601.6,328.8L601.6,332.4L601.5,336L601.1,339.6L600.4,343.1L599.4,346.6L598.1,349.9L604,355.8L582.4,359L579,332L585,338.6L586,335.4L586.9,332L587.6,328.4L588.1,324.7L588.5,321L588.7,317.3L588.6,313.6L588.4,309.9L588,306.3L587.4,302.7L586.6,299.2L585.6,295.8L584.5,292.4L583.3,289.1L582,285.7L580.6,282.5L579.1,279.2L577.5,276L575.9,272.8L574.3,269.6L572.6,266.4L570.8,263.2L569,260L567.2,256.9L565.3,253.7L563.4,250.6L561.5,247.6L559.5,244.6L557.4,241.6L555.3,238.7L553.1,235.9L550.8,233.2L548.4,230.6L545.9,228L543.4,225.5L540.8,223.1L538.1,220.7L535.4,218.2L532.7,215.8L530,213.2Z" fill="#8c8c8c" stroke="#333" stroke-width="0.8" stroke-linejoin="miter"/>
<g font-family="'Liberation Sans', Arial, Helvetica, sans-serif" font-size="13.2" fill="#0c0c0c" stroke="#0c0c0c" stroke-width="0.22"><text x="116.5" y="11.6">Allergens, proteases, viruses</text>
<text x="274" y="56.5">Epithelial-mesenchymal tissue (airways)</text>
<text x="98" y="170.5">SCF</text>
<text x="67" y="194.6">IL-33</text>
<text x="40.6" y="225.2">TSLP</text>
<text x="254" y="198.7">Cys–LT</text>
<text x="243" y="236.9">Tryptase</text>
<text x="231" y="268.8">Histamine</text>
<text x="205" y="307">TNF-α</text>
<text x="159" y="336">IL-13</text>
<text x="189" y="363.5">Amphiregulin</text>
<text x="297" y="308.8">PGD<tspan font-size="10" dy="3.2">2</tspan></text>
<text x="380.3" y="249.1">IL-4</text>
<text x="380.3" y="268.6">IL-13</text>
<text x="472" y="221.3">CCL17,</text>
<text x="472" y="238.3">CCL23</text>
<text x="559" y="229.2">IL-33</text>
<text x="590" y="262">TSLP</text>
<text x="447" y="312">CCL3, CCL4</text>
<text x="423" y="347">TNF-α</text>
<text x="25.5" y="405.7">Mast cells</text>
<text x="559" y="432.3">Th2 cells</text>
<text x="312" y="454">IL-4, IL-6</text></g>
</svg>
</body></html>
